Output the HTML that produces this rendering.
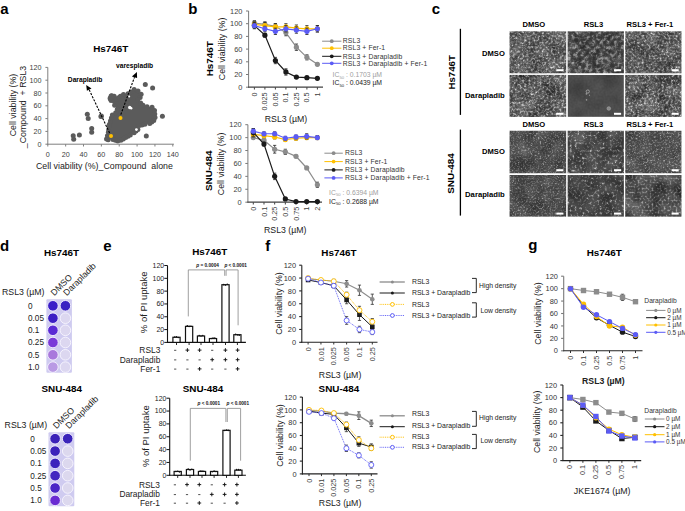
<!DOCTYPE html>
<html><head><meta charset="utf-8"><style>html,body{margin:0;padding:0;background:#fff;width:685px;height:511px;overflow:hidden}svg{display:block}text{font-family:"Liberation Sans", sans-serif}</style></head>
<body><svg width="685" height="511" viewBox="0 0 685 511" font-family='"Liberation Sans", sans-serif'>
<rect width="685" height="511" fill="#fff"/>
<text x="0.30" y="13.70" font-size="15" font-weight="bold" fill="#000">a</text>
<text x="188.30" y="13.70" font-size="15" font-weight="bold" fill="#000">b</text>
<text x="431.80" y="13.80" font-size="15" font-weight="bold" fill="#000">c</text>
<text x="0.10" y="250.80" font-size="15" font-weight="bold" fill="#000">d</text>
<text x="103.30" y="250.90" font-size="15" font-weight="bold" fill="#000">e</text>
<text x="265.30" y="251.00" font-size="15" font-weight="bold" fill="#000">f</text>
<text x="528.30" y="250.30" font-size="15" font-weight="bold" fill="#000">g</text>
<text x="110.70" y="51.50" font-size="9.9" font-weight="bold" text-anchor="middle" fill="#000">Hs746T</text>
<polygon points="106.55,138.94 108.39,132.36 109.48,124.31 111.40,117.96 112.37,114.98 115.70,112.76 117.31,109.21 114.65,105.36 114.43,101.48 111.12,100.48 110.24,98.08 111.77,95.75 114.18,96.34 116.67,99.24 120.41,96.13 123.45,94.55 126.45,96.29 127.96,93.80 130.98,92.07 134.15,89.52 138.03,91.10 141.11,94.21 140.12,97.54 137.65,100.06 140.68,103.07 142.99,105.25 147.08,106.67 152.04,107.32 154.51,110.45 155.03,117.45 153.79,120.61 149.71,123.60 144.85,124.27 139.27,125.51 137.87,129.49 134.09,132.70 130.27,135.11 125.66,137.61 120.87,140.16 117.75,141.01 112.95,139.54 108.16,139.67" fill="#5b5b5b"/>
<circle cx="106.55" cy="138.94" r="2.5" fill="#5b5b5b" stroke="none" stroke-width="1"/>
<circle cx="107.46" cy="135.64" r="2.5" fill="#5b5b5b" stroke="none" stroke-width="1"/>
<circle cx="108.39" cy="132.36" r="2.5" fill="#5b5b5b" stroke="none" stroke-width="1"/>
<circle cx="108.75" cy="129.66" r="2.5" fill="#5b5b5b" stroke="none" stroke-width="1"/>
<circle cx="109.11" cy="126.97" r="2.5" fill="#5b5b5b" stroke="none" stroke-width="1"/>
<circle cx="109.48" cy="124.31" r="2.5" fill="#5b5b5b" stroke="none" stroke-width="1"/>
<circle cx="110.44" cy="121.10" r="2.5" fill="#5b5b5b" stroke="none" stroke-width="1"/>
<circle cx="111.40" cy="117.96" r="2.5" fill="#5b5b5b" stroke="none" stroke-width="1"/>
<circle cx="112.37" cy="114.98" r="2.5" fill="#5b5b5b" stroke="none" stroke-width="1"/>
<circle cx="115.70" cy="112.76" r="2.5" fill="#5b5b5b" stroke="none" stroke-width="1"/>
<circle cx="117.31" cy="109.21" r="2.5" fill="#5b5b5b" stroke="none" stroke-width="1"/>
<circle cx="114.65" cy="105.36" r="2.5" fill="#5b5b5b" stroke="none" stroke-width="1"/>
<circle cx="114.43" cy="101.48" r="2.5" fill="#5b5b5b" stroke="none" stroke-width="1"/>
<circle cx="111.12" cy="100.48" r="2.5" fill="#5b5b5b" stroke="none" stroke-width="1"/>
<circle cx="110.24" cy="98.08" r="2.5" fill="#5b5b5b" stroke="none" stroke-width="1"/>
<circle cx="111.77" cy="95.75" r="2.5" fill="#5b5b5b" stroke="none" stroke-width="1"/>
<circle cx="114.18" cy="96.34" r="2.5" fill="#5b5b5b" stroke="none" stroke-width="1"/>
<circle cx="116.67" cy="99.24" r="2.5" fill="#5b5b5b" stroke="none" stroke-width="1"/>
<circle cx="118.55" cy="97.70" r="2.5" fill="#5b5b5b" stroke="none" stroke-width="1"/>
<circle cx="120.41" cy="96.13" r="2.5" fill="#5b5b5b" stroke="none" stroke-width="1"/>
<circle cx="123.45" cy="94.55" r="2.5" fill="#5b5b5b" stroke="none" stroke-width="1"/>
<circle cx="126.45" cy="96.29" r="2.5" fill="#5b5b5b" stroke="none" stroke-width="1"/>
<circle cx="127.96" cy="93.80" r="2.5" fill="#5b5b5b" stroke="none" stroke-width="1"/>
<circle cx="130.98" cy="92.07" r="2.5" fill="#5b5b5b" stroke="none" stroke-width="1"/>
<circle cx="134.15" cy="89.52" r="2.5" fill="#5b5b5b" stroke="none" stroke-width="1"/>
<circle cx="138.03" cy="91.10" r="2.5" fill="#5b5b5b" stroke="none" stroke-width="1"/>
<circle cx="141.11" cy="94.21" r="2.5" fill="#5b5b5b" stroke="none" stroke-width="1"/>
<circle cx="140.12" cy="97.54" r="2.5" fill="#5b5b5b" stroke="none" stroke-width="1"/>
<circle cx="137.65" cy="100.06" r="2.5" fill="#5b5b5b" stroke="none" stroke-width="1"/>
<circle cx="140.68" cy="103.07" r="2.5" fill="#5b5b5b" stroke="none" stroke-width="1"/>
<circle cx="142.99" cy="105.25" r="2.5" fill="#5b5b5b" stroke="none" stroke-width="1"/>
<circle cx="147.08" cy="106.67" r="2.5" fill="#5b5b5b" stroke="none" stroke-width="1"/>
<circle cx="152.04" cy="107.32" r="2.5" fill="#5b5b5b" stroke="none" stroke-width="1"/>
<circle cx="154.51" cy="110.45" r="2.5" fill="#5b5b5b" stroke="none" stroke-width="1"/>
<circle cx="154.75" cy="113.94" r="2.5" fill="#5b5b5b" stroke="none" stroke-width="1"/>
<circle cx="155.03" cy="117.45" r="2.5" fill="#5b5b5b" stroke="none" stroke-width="1"/>
<circle cx="153.79" cy="120.61" r="2.5" fill="#5b5b5b" stroke="none" stroke-width="1"/>
<circle cx="151.74" cy="122.11" r="2.5" fill="#5b5b5b" stroke="none" stroke-width="1"/>
<circle cx="149.71" cy="123.60" r="2.5" fill="#5b5b5b" stroke="none" stroke-width="1"/>
<circle cx="144.85" cy="124.27" r="2.5" fill="#5b5b5b" stroke="none" stroke-width="1"/>
<circle cx="142.03" cy="124.90" r="2.5" fill="#5b5b5b" stroke="none" stroke-width="1"/>
<circle cx="139.27" cy="125.51" r="2.5" fill="#5b5b5b" stroke="none" stroke-width="1"/>
<circle cx="137.87" cy="129.49" r="2.5" fill="#5b5b5b" stroke="none" stroke-width="1"/>
<circle cx="135.98" cy="131.08" r="2.5" fill="#5b5b5b" stroke="none" stroke-width="1"/>
<circle cx="134.09" cy="132.70" r="2.5" fill="#5b5b5b" stroke="none" stroke-width="1"/>
<circle cx="130.27" cy="135.11" r="2.5" fill="#5b5b5b" stroke="none" stroke-width="1"/>
<circle cx="127.97" cy="136.35" r="2.5" fill="#5b5b5b" stroke="none" stroke-width="1"/>
<circle cx="125.66" cy="137.61" r="2.5" fill="#5b5b5b" stroke="none" stroke-width="1"/>
<circle cx="123.28" cy="138.88" r="2.5" fill="#5b5b5b" stroke="none" stroke-width="1"/>
<circle cx="120.87" cy="140.16" r="2.5" fill="#5b5b5b" stroke="none" stroke-width="1"/>
<circle cx="117.75" cy="141.01" r="2.5" fill="#5b5b5b" stroke="none" stroke-width="1"/>
<circle cx="115.36" cy="140.27" r="2.5" fill="#5b5b5b" stroke="none" stroke-width="1"/>
<circle cx="112.95" cy="139.54" r="2.5" fill="#5b5b5b" stroke="none" stroke-width="1"/>
<circle cx="108.16" cy="139.67" r="2.5" fill="#5b5b5b" stroke="none" stroke-width="1"/>
<circle cx="129.70" cy="107.50" r="1.7" fill="#fff" stroke="none" stroke-width="1"/>
<circle cx="136.40" cy="129.60" r="1.4" fill="#fff" stroke="none" stroke-width="1"/>
<circle cx="131.20" cy="108.30" r="1.2" fill="#fff" stroke="none" stroke-width="1"/>
<circle cx="129.20" cy="96.50" r="1.0" fill="#fff" stroke="none" stroke-width="1"/>
<circle cx="73.20" cy="135.80" r="2.5" fill="#5b5b5b" stroke="none" stroke-width="1"/>
<circle cx="73.70" cy="139.30" r="2.5" fill="#5b5b5b" stroke="none" stroke-width="1"/>
<circle cx="79.40" cy="134.90" r="2.5" fill="#5b5b5b" stroke="none" stroke-width="1"/>
<circle cx="87.30" cy="114.30" r="2.5" fill="#5b5b5b" stroke="none" stroke-width="1"/>
<circle cx="88.20" cy="118.50" r="2.5" fill="#5b5b5b" stroke="none" stroke-width="1"/>
<circle cx="91.70" cy="128.40" r="2.5" fill="#5b5b5b" stroke="none" stroke-width="1"/>
<circle cx="91.70" cy="132.20" r="2.5" fill="#5b5b5b" stroke="none" stroke-width="1"/>
<circle cx="100.90" cy="116.40" r="2.5" fill="#5b5b5b" stroke="none" stroke-width="1"/>
<circle cx="111.10" cy="96.10" r="2.5" fill="#5b5b5b" stroke="none" stroke-width="1"/>
<circle cx="110.20" cy="98.80" r="2.5" fill="#5b5b5b" stroke="none" stroke-width="1"/>
<circle cx="145.30" cy="84.60" r="2.5" fill="#5b5b5b" stroke="none" stroke-width="1"/>
<circle cx="152.60" cy="87.90" r="2.5" fill="#5b5b5b" stroke="none" stroke-width="1"/>
<circle cx="162.40" cy="116.20" r="2.5" fill="#5b5b5b" stroke="none" stroke-width="1"/>
<circle cx="146.30" cy="136.10" r="2.5" fill="#5b5b5b" stroke="none" stroke-width="1"/>
<circle cx="101.40" cy="116.10" r="2.5" fill="#5b5b5b" stroke="none" stroke-width="1"/>
<circle cx="120.50" cy="117.90" r="2.0" fill="#ffc000" stroke="none" stroke-width="1"/>
<circle cx="111.00" cy="136.00" r="2.0" fill="#ffc000" stroke="none" stroke-width="1"/>
<defs><marker id="ah" viewBox="0 0 10 10" refX="9" refY="5" markerWidth="4.2" markerHeight="4.2" orient="auto"><path d="M0,0 L10,5 L0,10 z" fill="#000"/></marker></defs>
<line x1="109.60" y1="133.00" x2="89.10" y2="89.60" stroke="#000" stroke-width="1.1" stroke-dasharray="2.2,1.3"/>
<line x1="120.80" y1="114.60" x2="134.50" y2="77.20" stroke="#000" stroke-width="1.1" stroke-dasharray="2.2,1.3"/>
<polygon points="86.2,85.0 86.9,90.8 91.5,88.6" fill="#000"/>
<polygon points="136.9,71.9 131.9,76.4 137.1,78.0" fill="#000"/>
<text x="67.80" y="82.00" font-size="6.7" font-weight="bold" fill="#000">Darapladib</text>
<text x="116.00" y="68.30" font-size="6.7" font-weight="bold" fill="#000">varespladib</text>
<line x1="47.80" y1="67.40" x2="47.80" y2="144.70" stroke="#7f7f7f" stroke-width="1"/>
<line x1="47.30" y1="144.20" x2="173.90" y2="144.20" stroke="#7f7f7f" stroke-width="1"/>
<line x1="45.40" y1="144.20" x2="47.80" y2="144.20" stroke="#7f7f7f" stroke-width="1"/>
<text x="41.60" y="146.70" font-size="7.2" text-anchor="end" fill="#404040">0</text>
<line x1="45.40" y1="131.40" x2="47.80" y2="131.40" stroke="#7f7f7f" stroke-width="1"/>
<text x="41.60" y="133.90" font-size="7.2" text-anchor="end" fill="#404040">20</text>
<line x1="45.40" y1="118.60" x2="47.80" y2="118.60" stroke="#7f7f7f" stroke-width="1"/>
<text x="41.60" y="121.10" font-size="7.2" text-anchor="end" fill="#404040">40</text>
<line x1="45.40" y1="105.80" x2="47.80" y2="105.80" stroke="#7f7f7f" stroke-width="1"/>
<text x="41.60" y="108.30" font-size="7.2" text-anchor="end" fill="#404040">60</text>
<line x1="45.40" y1="93.00" x2="47.80" y2="93.00" stroke="#7f7f7f" stroke-width="1"/>
<text x="41.60" y="95.50" font-size="7.2" text-anchor="end" fill="#404040">80</text>
<line x1="45.40" y1="80.20" x2="47.80" y2="80.20" stroke="#7f7f7f" stroke-width="1"/>
<text x="41.60" y="82.70" font-size="7.2" text-anchor="end" fill="#404040">100</text>
<line x1="45.40" y1="67.40" x2="47.80" y2="67.40" stroke="#7f7f7f" stroke-width="1"/>
<text x="41.60" y="69.90" font-size="7.2" text-anchor="end" fill="#404040">120</text>
<line x1="47.80" y1="144.20" x2="47.80" y2="146.50" stroke="#7f7f7f" stroke-width="1"/>
<text x="47.80" y="156.50" font-size="7.2" text-anchor="middle" fill="#404040">0</text>
<line x1="65.66" y1="144.20" x2="65.66" y2="146.50" stroke="#7f7f7f" stroke-width="1"/>
<text x="65.66" y="156.50" font-size="7.2" text-anchor="middle" fill="#404040">20</text>
<line x1="83.51" y1="144.20" x2="83.51" y2="146.50" stroke="#7f7f7f" stroke-width="1"/>
<text x="83.51" y="156.50" font-size="7.2" text-anchor="middle" fill="#404040">40</text>
<line x1="101.37" y1="144.20" x2="101.37" y2="146.50" stroke="#7f7f7f" stroke-width="1"/>
<text x="101.37" y="156.50" font-size="7.2" text-anchor="middle" fill="#404040">60</text>
<line x1="119.23" y1="144.20" x2="119.23" y2="146.50" stroke="#7f7f7f" stroke-width="1"/>
<text x="119.23" y="156.50" font-size="7.2" text-anchor="middle" fill="#404040">80</text>
<line x1="137.09" y1="144.20" x2="137.09" y2="146.50" stroke="#7f7f7f" stroke-width="1"/>
<text x="137.09" y="156.50" font-size="7.2" text-anchor="middle" fill="#404040">100</text>
<line x1="154.94" y1="144.20" x2="154.94" y2="146.50" stroke="#7f7f7f" stroke-width="1"/>
<text x="154.94" y="156.50" font-size="7.2" text-anchor="middle" fill="#404040">120</text>
<line x1="172.80" y1="144.20" x2="172.80" y2="146.50" stroke="#7f7f7f" stroke-width="1"/>
<text x="172.80" y="156.50" font-size="7.2" text-anchor="middle" fill="#404040">140</text>
<text x="104.40" y="168.50" font-size="8.8" text-anchor="middle" fill="#222">Cell viability (%)_Compound&#160;&#160;alone</text>
<text x="16.20" y="105.00" font-size="8.8" text-anchor="middle" fill="#222" transform="rotate(-90 16.20 105.00)">Cell viability (%)</text>
<text x="26.00" y="107.00" font-size="8.8" text-anchor="middle" fill="#222" transform="rotate(-90 26.00 107.00)">_Compound&#160;&#160;+ RSL3</text>
<line x1="248.60" y1="11.00" x2="248.60" y2="87.70" stroke="#7a7a7a" stroke-width="1"/>
<line x1="246.00" y1="87.20" x2="248.60" y2="87.20" stroke="#7a7a7a" stroke-width="1"/>
<text x="242.40" y="89.86" font-size="7.4" text-anchor="end" fill="#404040">0</text>
<line x1="246.00" y1="74.50" x2="248.60" y2="74.50" stroke="#7a7a7a" stroke-width="1"/>
<text x="242.40" y="77.16" font-size="7.4" text-anchor="end" fill="#404040">20</text>
<line x1="246.00" y1="61.80" x2="248.60" y2="61.80" stroke="#7a7a7a" stroke-width="1"/>
<text x="242.40" y="64.46" font-size="7.4" text-anchor="end" fill="#404040">40</text>
<line x1="246.00" y1="49.10" x2="248.60" y2="49.10" stroke="#7a7a7a" stroke-width="1"/>
<text x="242.40" y="51.76" font-size="7.4" text-anchor="end" fill="#404040">60</text>
<line x1="246.00" y1="36.40" x2="248.60" y2="36.40" stroke="#7a7a7a" stroke-width="1"/>
<text x="242.40" y="39.06" font-size="7.4" text-anchor="end" fill="#404040">80</text>
<line x1="246.00" y1="23.70" x2="248.60" y2="23.70" stroke="#7a7a7a" stroke-width="1"/>
<text x="242.40" y="26.36" font-size="7.4" text-anchor="end" fill="#404040">100</text>
<line x1="246.00" y1="11.00" x2="248.60" y2="11.00" stroke="#7a7a7a" stroke-width="1"/>
<text x="242.40" y="13.66" font-size="7.4" text-anchor="end" fill="#404040">120</text>
<line x1="248.10" y1="87.20" x2="323.00" y2="87.20" stroke="#404040" stroke-width="1.2"/>
<line x1="254.40" y1="87.20" x2="254.40" y2="89.40" stroke="#404040" stroke-width="1.02"/>
<line x1="264.90" y1="87.20" x2="264.90" y2="89.40" stroke="#404040" stroke-width="1.02"/>
<line x1="275.40" y1="87.20" x2="275.40" y2="89.40" stroke="#404040" stroke-width="1.02"/>
<line x1="285.90" y1="87.20" x2="285.90" y2="89.40" stroke="#404040" stroke-width="1.02"/>
<line x1="296.40" y1="87.20" x2="296.40" y2="89.40" stroke="#404040" stroke-width="1.02"/>
<line x1="306.90" y1="87.20" x2="306.90" y2="89.40" stroke="#404040" stroke-width="1.02"/>
<line x1="317.40" y1="87.20" x2="317.40" y2="89.40" stroke="#404040" stroke-width="1.02"/>
<text x="256.99" y="92.60" font-size="7.2" text-anchor="end" fill="#404040" transform="rotate(-90 256.99 92.60)">0</text>
<text x="267.49" y="92.60" font-size="7.2" text-anchor="end" fill="#404040" transform="rotate(-90 267.49 92.60)">0.025</text>
<text x="277.99" y="92.60" font-size="7.2" text-anchor="end" fill="#404040" transform="rotate(-90 277.99 92.60)">0.05</text>
<text x="288.49" y="92.60" font-size="7.2" text-anchor="end" fill="#404040" transform="rotate(-90 288.49 92.60)">0.1</text>
<text x="298.99" y="92.60" font-size="7.2" text-anchor="end" fill="#404040" transform="rotate(-90 298.99 92.60)">0.25</text>
<text x="309.49" y="92.60" font-size="7.2" text-anchor="end" fill="#404040" transform="rotate(-90 309.49 92.60)">0.5</text>
<text x="319.99" y="92.60" font-size="7.2" text-anchor="end" fill="#404040" transform="rotate(-90 319.99 92.60)">1</text>
<polyline points="254.40,23.06 264.90,24.34 275.40,26.24 285.90,32.59 296.40,47.20 306.90,57.36 317.40,64.34" fill="none" stroke="#8c8c8c" stroke-width="1.2"/>
<line x1="254.40" y1="20.52" x2="254.40" y2="25.60" stroke="#222" stroke-width="0.8"/>
<line x1="252.80" y1="20.52" x2="256.00" y2="20.52" stroke="#222" stroke-width="0.8"/>
<line x1="252.80" y1="25.60" x2="256.00" y2="25.60" stroke="#222" stroke-width="0.8"/>
<line x1="264.90" y1="21.80" x2="264.90" y2="26.88" stroke="#222" stroke-width="0.8"/>
<line x1="263.30" y1="21.80" x2="266.50" y2="21.80" stroke="#222" stroke-width="0.8"/>
<line x1="263.30" y1="26.88" x2="266.50" y2="26.88" stroke="#222" stroke-width="0.8"/>
<line x1="275.40" y1="23.70" x2="275.40" y2="28.78" stroke="#222" stroke-width="0.8"/>
<line x1="273.80" y1="23.70" x2="277.00" y2="23.70" stroke="#222" stroke-width="0.8"/>
<line x1="273.80" y1="28.78" x2="277.00" y2="28.78" stroke="#222" stroke-width="0.8"/>
<line x1="285.90" y1="29.42" x2="285.90" y2="35.77" stroke="#222" stroke-width="0.8"/>
<line x1="284.30" y1="29.42" x2="287.50" y2="29.42" stroke="#222" stroke-width="0.8"/>
<line x1="284.30" y1="35.77" x2="287.50" y2="35.77" stroke="#222" stroke-width="0.8"/>
<line x1="296.40" y1="44.02" x2="296.40" y2="50.37" stroke="#222" stroke-width="0.8"/>
<line x1="294.80" y1="44.02" x2="298.00" y2="44.02" stroke="#222" stroke-width="0.8"/>
<line x1="294.80" y1="50.37" x2="298.00" y2="50.37" stroke="#222" stroke-width="0.8"/>
<line x1="306.90" y1="54.82" x2="306.90" y2="59.90" stroke="#222" stroke-width="0.8"/>
<line x1="305.30" y1="54.82" x2="308.50" y2="54.82" stroke="#222" stroke-width="0.8"/>
<line x1="305.30" y1="59.90" x2="308.50" y2="59.90" stroke="#222" stroke-width="0.8"/>
<line x1="317.40" y1="63.07" x2="317.40" y2="65.61" stroke="#222" stroke-width="0.8"/>
<line x1="315.80" y1="63.07" x2="319.00" y2="63.07" stroke="#222" stroke-width="0.8"/>
<line x1="315.80" y1="65.61" x2="319.00" y2="65.61" stroke="#222" stroke-width="0.8"/>
<circle cx="254.40" cy="23.06" r="2.6" fill="#8c8c8c" stroke="none" stroke-width="1"/>
<circle cx="264.90" cy="24.34" r="2.6" fill="#8c8c8c" stroke="none" stroke-width="1"/>
<circle cx="275.40" cy="26.24" r="2.6" fill="#8c8c8c" stroke="none" stroke-width="1"/>
<circle cx="285.90" cy="32.59" r="2.6" fill="#8c8c8c" stroke="none" stroke-width="1"/>
<circle cx="296.40" cy="47.20" r="2.6" fill="#8c8c8c" stroke="none" stroke-width="1"/>
<circle cx="306.90" cy="57.36" r="2.6" fill="#8c8c8c" stroke="none" stroke-width="1"/>
<circle cx="317.40" cy="64.34" r="2.6" fill="#8c8c8c" stroke="none" stroke-width="1"/>
<polyline points="254.40,24.34 264.90,25.61 275.40,26.88 285.90,26.88 296.40,28.15 306.90,28.78 317.40,28.78" fill="none" stroke="#ffc000" stroke-width="1.2"/>
<line x1="254.40" y1="21.80" x2="254.40" y2="26.88" stroke="#222" stroke-width="0.8"/>
<line x1="252.80" y1="21.80" x2="256.00" y2="21.80" stroke="#222" stroke-width="0.8"/>
<line x1="252.80" y1="26.88" x2="256.00" y2="26.88" stroke="#222" stroke-width="0.8"/>
<line x1="264.90" y1="22.43" x2="264.90" y2="28.78" stroke="#222" stroke-width="0.8"/>
<line x1="263.30" y1="22.43" x2="266.50" y2="22.43" stroke="#222" stroke-width="0.8"/>
<line x1="263.30" y1="28.78" x2="266.50" y2="28.78" stroke="#222" stroke-width="0.8"/>
<line x1="275.40" y1="23.70" x2="275.40" y2="30.05" stroke="#222" stroke-width="0.8"/>
<line x1="273.80" y1="23.70" x2="277.00" y2="23.70" stroke="#222" stroke-width="0.8"/>
<line x1="273.80" y1="30.05" x2="277.00" y2="30.05" stroke="#222" stroke-width="0.8"/>
<line x1="285.90" y1="23.70" x2="285.90" y2="30.05" stroke="#222" stroke-width="0.8"/>
<line x1="284.30" y1="23.70" x2="287.50" y2="23.70" stroke="#222" stroke-width="0.8"/>
<line x1="284.30" y1="30.05" x2="287.50" y2="30.05" stroke="#222" stroke-width="0.8"/>
<line x1="296.40" y1="24.97" x2="296.40" y2="31.32" stroke="#222" stroke-width="0.8"/>
<line x1="294.80" y1="24.97" x2="298.00" y2="24.97" stroke="#222" stroke-width="0.8"/>
<line x1="294.80" y1="31.32" x2="298.00" y2="31.32" stroke="#222" stroke-width="0.8"/>
<line x1="306.90" y1="25.61" x2="306.90" y2="31.96" stroke="#222" stroke-width="0.8"/>
<line x1="305.30" y1="25.61" x2="308.50" y2="25.61" stroke="#222" stroke-width="0.8"/>
<line x1="305.30" y1="31.96" x2="308.50" y2="31.96" stroke="#222" stroke-width="0.8"/>
<line x1="317.40" y1="25.61" x2="317.40" y2="31.96" stroke="#222" stroke-width="0.8"/>
<line x1="315.80" y1="25.61" x2="319.00" y2="25.61" stroke="#222" stroke-width="0.8"/>
<line x1="315.80" y1="31.96" x2="319.00" y2="31.96" stroke="#222" stroke-width="0.8"/>
<circle cx="254.40" cy="24.34" r="2.6" fill="#ffc000" stroke="none" stroke-width="1"/>
<circle cx="264.90" cy="25.61" r="2.6" fill="#ffc000" stroke="none" stroke-width="1"/>
<circle cx="275.40" cy="26.88" r="2.6" fill="#ffc000" stroke="none" stroke-width="1"/>
<circle cx="285.90" cy="26.88" r="2.6" fill="#ffc000" stroke="none" stroke-width="1"/>
<circle cx="296.40" cy="28.15" r="2.6" fill="#ffc000" stroke="none" stroke-width="1"/>
<circle cx="306.90" cy="28.78" r="2.6" fill="#ffc000" stroke="none" stroke-width="1"/>
<circle cx="317.40" cy="28.78" r="2.6" fill="#ffc000" stroke="none" stroke-width="1"/>
<polyline points="254.40,25.61 264.90,35.13 275.40,60.53 285.90,71.96 296.40,77.04 306.90,77.67 317.40,78.31" fill="none" stroke="#1a1a1a" stroke-width="1.2"/>
<line x1="254.40" y1="22.43" x2="254.40" y2="28.78" stroke="#222" stroke-width="0.8"/>
<line x1="252.80" y1="22.43" x2="256.00" y2="22.43" stroke="#222" stroke-width="0.8"/>
<line x1="252.80" y1="28.78" x2="256.00" y2="28.78" stroke="#222" stroke-width="0.8"/>
<line x1="264.90" y1="33.23" x2="264.90" y2="37.04" stroke="#222" stroke-width="0.8"/>
<line x1="263.30" y1="33.23" x2="266.50" y2="33.23" stroke="#222" stroke-width="0.8"/>
<line x1="263.30" y1="37.04" x2="266.50" y2="37.04" stroke="#222" stroke-width="0.8"/>
<line x1="275.40" y1="57.36" x2="275.40" y2="63.70" stroke="#222" stroke-width="0.8"/>
<line x1="273.80" y1="57.36" x2="277.00" y2="57.36" stroke="#222" stroke-width="0.8"/>
<line x1="273.80" y1="63.70" x2="277.00" y2="63.70" stroke="#222" stroke-width="0.8"/>
<line x1="285.90" y1="68.79" x2="285.90" y2="75.14" stroke="#222" stroke-width="0.8"/>
<line x1="284.30" y1="68.79" x2="287.50" y2="68.79" stroke="#222" stroke-width="0.8"/>
<line x1="284.30" y1="75.14" x2="287.50" y2="75.14" stroke="#222" stroke-width="0.8"/>
<line x1="296.40" y1="75.77" x2="296.40" y2="78.31" stroke="#222" stroke-width="0.8"/>
<line x1="294.80" y1="75.77" x2="298.00" y2="75.77" stroke="#222" stroke-width="0.8"/>
<line x1="294.80" y1="78.31" x2="298.00" y2="78.31" stroke="#222" stroke-width="0.8"/>
<line x1="306.90" y1="76.41" x2="306.90" y2="78.94" stroke="#222" stroke-width="0.8"/>
<line x1="305.30" y1="76.41" x2="308.50" y2="76.41" stroke="#222" stroke-width="0.8"/>
<line x1="305.30" y1="78.94" x2="308.50" y2="78.94" stroke="#222" stroke-width="0.8"/>
<line x1="317.40" y1="77.04" x2="317.40" y2="79.58" stroke="#222" stroke-width="0.8"/>
<line x1="315.80" y1="77.04" x2="319.00" y2="77.04" stroke="#222" stroke-width="0.8"/>
<line x1="315.80" y1="79.58" x2="319.00" y2="79.58" stroke="#222" stroke-width="0.8"/>
<circle cx="254.40" cy="25.61" r="2.6" fill="#1a1a1a" stroke="none" stroke-width="1"/>
<circle cx="264.90" cy="35.13" r="2.6" fill="#1a1a1a" stroke="none" stroke-width="1"/>
<circle cx="275.40" cy="60.53" r="2.6" fill="#1a1a1a" stroke="none" stroke-width="1"/>
<circle cx="285.90" cy="71.96" r="2.6" fill="#1a1a1a" stroke="none" stroke-width="1"/>
<circle cx="296.40" cy="77.04" r="2.6" fill="#1a1a1a" stroke="none" stroke-width="1"/>
<circle cx="306.90" cy="77.67" r="2.6" fill="#1a1a1a" stroke="none" stroke-width="1"/>
<circle cx="317.40" cy="78.31" r="2.6" fill="#1a1a1a" stroke="none" stroke-width="1"/>
<polyline points="254.40,25.61 264.90,28.78 275.40,31.32 285.90,28.78 296.40,30.05 306.90,31.32 317.40,28.78" fill="none" stroke="#5b5bf5" stroke-width="1.2"/>
<line x1="254.40" y1="23.07" x2="254.40" y2="28.15" stroke="#222" stroke-width="0.8"/>
<line x1="252.80" y1="23.07" x2="256.00" y2="23.07" stroke="#222" stroke-width="0.8"/>
<line x1="252.80" y1="28.15" x2="256.00" y2="28.15" stroke="#222" stroke-width="0.8"/>
<line x1="264.90" y1="26.24" x2="264.90" y2="31.32" stroke="#222" stroke-width="0.8"/>
<line x1="263.30" y1="26.24" x2="266.50" y2="26.24" stroke="#222" stroke-width="0.8"/>
<line x1="263.30" y1="31.32" x2="266.50" y2="31.32" stroke="#222" stroke-width="0.8"/>
<line x1="275.40" y1="28.14" x2="275.40" y2="34.49" stroke="#222" stroke-width="0.8"/>
<line x1="273.80" y1="28.14" x2="277.00" y2="28.14" stroke="#222" stroke-width="0.8"/>
<line x1="273.80" y1="34.49" x2="277.00" y2="34.49" stroke="#222" stroke-width="0.8"/>
<line x1="285.90" y1="25.61" x2="285.90" y2="31.96" stroke="#222" stroke-width="0.8"/>
<line x1="284.30" y1="25.61" x2="287.50" y2="25.61" stroke="#222" stroke-width="0.8"/>
<line x1="284.30" y1="31.96" x2="287.50" y2="31.96" stroke="#222" stroke-width="0.8"/>
<line x1="296.40" y1="26.88" x2="296.40" y2="33.23" stroke="#222" stroke-width="0.8"/>
<line x1="294.80" y1="26.88" x2="298.00" y2="26.88" stroke="#222" stroke-width="0.8"/>
<line x1="294.80" y1="33.23" x2="298.00" y2="33.23" stroke="#222" stroke-width="0.8"/>
<line x1="306.90" y1="28.14" x2="306.90" y2="34.49" stroke="#222" stroke-width="0.8"/>
<line x1="305.30" y1="28.14" x2="308.50" y2="28.14" stroke="#222" stroke-width="0.8"/>
<line x1="305.30" y1="34.49" x2="308.50" y2="34.49" stroke="#222" stroke-width="0.8"/>
<line x1="317.40" y1="25.61" x2="317.40" y2="31.96" stroke="#222" stroke-width="0.8"/>
<line x1="315.80" y1="25.61" x2="319.00" y2="25.61" stroke="#222" stroke-width="0.8"/>
<line x1="315.80" y1="31.96" x2="319.00" y2="31.96" stroke="#222" stroke-width="0.8"/>
<circle cx="254.40" cy="25.61" r="2.6" fill="#5b5bf5" stroke="none" stroke-width="1"/>
<circle cx="264.90" cy="28.78" r="2.6" fill="#5b5bf5" stroke="none" stroke-width="1"/>
<circle cx="275.40" cy="31.32" r="2.6" fill="#5b5bf5" stroke="none" stroke-width="1"/>
<circle cx="285.90" cy="28.78" r="2.6" fill="#5b5bf5" stroke="none" stroke-width="1"/>
<circle cx="296.40" cy="30.05" r="2.6" fill="#5b5bf5" stroke="none" stroke-width="1"/>
<circle cx="306.90" cy="31.32" r="2.6" fill="#5b5bf5" stroke="none" stroke-width="1"/>
<circle cx="317.40" cy="28.78" r="2.6" fill="#5b5bf5" stroke="none" stroke-width="1"/>
<text x="286.00" y="122.00" font-size="8.75" text-anchor="middle" fill="#222">RSL3 (µM)</text>
<text x="213.00" y="58.70" font-size="9.9" font-weight="bold" text-anchor="middle" fill="#000" transform="rotate(-90 213.00 58.70)">Hs746T</text>
<text x="225.30" y="48.90" font-size="8.8" text-anchor="middle" fill="#222" transform="rotate(-90 225.30 48.90)">Cell viability (%)</text>
<line x1="322.10" y1="41.20" x2="341.40" y2="41.20" stroke="#8c8c8c" stroke-width="1.0"/>
<circle cx="331.75" cy="41.20" r="1.9" fill="#8c8c8c" stroke="none" stroke-width="1"/>
<text x="342.80" y="43.40" font-size="6.8" fill="#333" letter-spacing="0.12">RSL3</text>
<line x1="322.10" y1="48.20" x2="341.40" y2="48.20" stroke="#ffc000" stroke-width="1.0"/>
<circle cx="331.75" cy="48.20" r="1.9" fill="#ffc000" stroke="none" stroke-width="1"/>
<text x="342.80" y="50.40" font-size="6.8" fill="#333" letter-spacing="0.12">RSL3&#160;+&#160;Fer-1</text>
<line x1="322.10" y1="56.30" x2="341.40" y2="56.30" stroke="#1a1a1a" stroke-width="1.0"/>
<circle cx="331.75" cy="56.30" r="1.9" fill="#1a1a1a" stroke="none" stroke-width="1"/>
<text x="342.80" y="58.50" font-size="6.8" fill="#333" letter-spacing="0.12">RSL3&#160;+&#160;Darapladib</text>
<line x1="322.10" y1="63.30" x2="341.40" y2="63.30" stroke="#5b5bf5" stroke-width="1.0"/>
<circle cx="331.75" cy="63.30" r="1.9" fill="#5b5bf5" stroke="none" stroke-width="1"/>
<text x="342.80" y="65.50" font-size="6.8" fill="#333" letter-spacing="0.12">RSL3&#160;+&#160;Darapladib&#160;+&#160;Fer-1</text>
<text x="332.6" y="77.0" font-size="6.8" fill="#a0a0a0">IC<tspan font-size="4.2" dy="1.5">50</tspan><tspan dy="-1.5"> : 0.1703 µM</tspan></text>
<text x="332.6" y="85.2" font-size="6.8" fill="#222">IC<tspan font-size="4.2" dy="1.5">50</tspan><tspan dy="-1.5"> : 0.0439 µM</tspan></text>
<line x1="247.90" y1="124.70" x2="247.90" y2="202.70" stroke="#7a7a7a" stroke-width="1"/>
<line x1="245.30" y1="202.20" x2="247.90" y2="202.20" stroke="#7a7a7a" stroke-width="1"/>
<text x="241.70" y="204.86" font-size="7.4" text-anchor="end" fill="#404040">0</text>
<line x1="245.30" y1="189.28" x2="247.90" y2="189.28" stroke="#7a7a7a" stroke-width="1"/>
<text x="241.70" y="191.95" font-size="7.4" text-anchor="end" fill="#404040">20</text>
<line x1="245.30" y1="176.37" x2="247.90" y2="176.37" stroke="#7a7a7a" stroke-width="1"/>
<text x="241.70" y="179.03" font-size="7.4" text-anchor="end" fill="#404040">40</text>
<line x1="245.30" y1="163.45" x2="247.90" y2="163.45" stroke="#7a7a7a" stroke-width="1"/>
<text x="241.70" y="166.11" font-size="7.4" text-anchor="end" fill="#404040">60</text>
<line x1="245.30" y1="150.53" x2="247.90" y2="150.53" stroke="#7a7a7a" stroke-width="1"/>
<text x="241.70" y="153.20" font-size="7.4" text-anchor="end" fill="#404040">80</text>
<line x1="245.30" y1="137.62" x2="247.90" y2="137.62" stroke="#7a7a7a" stroke-width="1"/>
<text x="241.70" y="140.28" font-size="7.4" text-anchor="end" fill="#404040">100</text>
<line x1="245.30" y1="124.70" x2="247.90" y2="124.70" stroke="#7a7a7a" stroke-width="1"/>
<text x="241.70" y="127.36" font-size="7.4" text-anchor="end" fill="#404040">120</text>
<line x1="247.40" y1="202.20" x2="322.00" y2="202.20" stroke="#404040" stroke-width="1.2"/>
<line x1="253.30" y1="202.20" x2="253.30" y2="204.40" stroke="#404040" stroke-width="1.02"/>
<line x1="263.98" y1="202.20" x2="263.98" y2="204.40" stroke="#404040" stroke-width="1.02"/>
<line x1="274.66" y1="202.20" x2="274.66" y2="204.40" stroke="#404040" stroke-width="1.02"/>
<line x1="285.34" y1="202.20" x2="285.34" y2="204.40" stroke="#404040" stroke-width="1.02"/>
<line x1="296.02" y1="202.20" x2="296.02" y2="204.40" stroke="#404040" stroke-width="1.02"/>
<line x1="306.70" y1="202.20" x2="306.70" y2="204.40" stroke="#404040" stroke-width="1.02"/>
<line x1="317.38" y1="202.20" x2="317.38" y2="204.40" stroke="#404040" stroke-width="1.02"/>
<text x="255.89" y="206.70" font-size="7.2" text-anchor="end" fill="#404040" transform="rotate(-90 255.89 206.70)">0</text>
<text x="266.57" y="206.70" font-size="7.2" text-anchor="end" fill="#404040" transform="rotate(-90 266.57 206.70)">0.1</text>
<text x="277.25" y="206.70" font-size="7.2" text-anchor="end" fill="#404040" transform="rotate(-90 277.25 206.70)">0.25</text>
<text x="287.93" y="206.70" font-size="7.2" text-anchor="end" fill="#404040" transform="rotate(-90 287.93 206.70)">0.5</text>
<text x="298.61" y="206.70" font-size="7.2" text-anchor="end" fill="#404040" transform="rotate(-90 298.61 206.70)">0.75</text>
<text x="309.29" y="206.70" font-size="7.2" text-anchor="end" fill="#404040" transform="rotate(-90 309.29 206.70)">1</text>
<text x="319.97" y="206.70" font-size="7.2" text-anchor="end" fill="#404040" transform="rotate(-90 319.97 206.70)">2</text>
<polyline points="253.30,137.62 263.98,140.20 274.66,149.24 285.34,151.82 296.02,156.35 306.70,167.97 317.38,184.76" fill="none" stroke="#8c8c8c" stroke-width="1.2"/>
<line x1="253.30" y1="136.32" x2="253.30" y2="138.91" stroke="#222" stroke-width="0.8"/>
<line x1="251.70" y1="136.32" x2="254.90" y2="136.32" stroke="#222" stroke-width="0.8"/>
<line x1="251.70" y1="138.91" x2="254.90" y2="138.91" stroke="#222" stroke-width="0.8"/>
<line x1="263.98" y1="137.62" x2="263.98" y2="142.78" stroke="#222" stroke-width="0.8"/>
<line x1="262.38" y1="137.62" x2="265.58" y2="137.62" stroke="#222" stroke-width="0.8"/>
<line x1="262.38" y1="142.78" x2="265.58" y2="142.78" stroke="#222" stroke-width="0.8"/>
<line x1="274.66" y1="145.37" x2="274.66" y2="153.12" stroke="#222" stroke-width="0.8"/>
<line x1="273.06" y1="145.37" x2="276.26" y2="145.37" stroke="#222" stroke-width="0.8"/>
<line x1="273.06" y1="153.12" x2="276.26" y2="153.12" stroke="#222" stroke-width="0.8"/>
<line x1="285.34" y1="149.24" x2="285.34" y2="154.41" stroke="#222" stroke-width="0.8"/>
<line x1="283.74" y1="149.24" x2="286.94" y2="149.24" stroke="#222" stroke-width="0.8"/>
<line x1="283.74" y1="154.41" x2="286.94" y2="154.41" stroke="#222" stroke-width="0.8"/>
<line x1="296.02" y1="155.05" x2="296.02" y2="157.64" stroke="#222" stroke-width="0.8"/>
<line x1="294.42" y1="155.05" x2="297.62" y2="155.05" stroke="#222" stroke-width="0.8"/>
<line x1="294.42" y1="157.64" x2="297.62" y2="157.64" stroke="#222" stroke-width="0.8"/>
<line x1="306.70" y1="166.68" x2="306.70" y2="169.26" stroke="#222" stroke-width="0.8"/>
<line x1="305.10" y1="166.68" x2="308.30" y2="166.68" stroke="#222" stroke-width="0.8"/>
<line x1="305.10" y1="169.26" x2="308.30" y2="169.26" stroke="#222" stroke-width="0.8"/>
<line x1="317.38" y1="182.18" x2="317.38" y2="187.35" stroke="#222" stroke-width="0.8"/>
<line x1="315.78" y1="182.18" x2="318.98" y2="182.18" stroke="#222" stroke-width="0.8"/>
<line x1="315.78" y1="187.35" x2="318.98" y2="187.35" stroke="#222" stroke-width="0.8"/>
<circle cx="253.30" cy="137.62" r="2.6" fill="#8c8c8c" stroke="none" stroke-width="1"/>
<circle cx="263.98" cy="140.20" r="2.6" fill="#8c8c8c" stroke="none" stroke-width="1"/>
<circle cx="274.66" cy="149.24" r="2.6" fill="#8c8c8c" stroke="none" stroke-width="1"/>
<circle cx="285.34" cy="151.82" r="2.6" fill="#8c8c8c" stroke="none" stroke-width="1"/>
<circle cx="296.02" cy="156.35" r="2.6" fill="#8c8c8c" stroke="none" stroke-width="1"/>
<circle cx="306.70" cy="167.97" r="2.6" fill="#8c8c8c" stroke="none" stroke-width="1"/>
<circle cx="317.38" cy="184.76" r="2.6" fill="#8c8c8c" stroke="none" stroke-width="1"/>
<polyline points="253.30,134.39 263.98,135.68 274.66,136.97 285.34,139.55 296.02,138.26 306.70,137.62 317.38,137.62" fill="none" stroke="#ffc000" stroke-width="1.2"/>
<line x1="253.30" y1="131.80" x2="253.30" y2="136.97" stroke="#222" stroke-width="0.8"/>
<line x1="251.70" y1="131.80" x2="254.90" y2="131.80" stroke="#222" stroke-width="0.8"/>
<line x1="251.70" y1="136.97" x2="254.90" y2="136.97" stroke="#222" stroke-width="0.8"/>
<line x1="263.98" y1="133.74" x2="263.98" y2="137.62" stroke="#222" stroke-width="0.8"/>
<line x1="262.38" y1="133.74" x2="265.58" y2="133.74" stroke="#222" stroke-width="0.8"/>
<line x1="262.38" y1="137.62" x2="265.58" y2="137.62" stroke="#222" stroke-width="0.8"/>
<line x1="274.66" y1="135.03" x2="274.66" y2="138.91" stroke="#222" stroke-width="0.8"/>
<line x1="273.06" y1="135.03" x2="276.26" y2="135.03" stroke="#222" stroke-width="0.8"/>
<line x1="273.06" y1="138.91" x2="276.26" y2="138.91" stroke="#222" stroke-width="0.8"/>
<line x1="285.34" y1="137.62" x2="285.34" y2="141.49" stroke="#222" stroke-width="0.8"/>
<line x1="283.74" y1="137.62" x2="286.94" y2="137.62" stroke="#222" stroke-width="0.8"/>
<line x1="283.74" y1="141.49" x2="286.94" y2="141.49" stroke="#222" stroke-width="0.8"/>
<line x1="296.02" y1="136.32" x2="296.02" y2="140.20" stroke="#222" stroke-width="0.8"/>
<line x1="294.42" y1="136.32" x2="297.62" y2="136.32" stroke="#222" stroke-width="0.8"/>
<line x1="294.42" y1="140.20" x2="297.62" y2="140.20" stroke="#222" stroke-width="0.8"/>
<line x1="306.70" y1="135.68" x2="306.70" y2="139.55" stroke="#222" stroke-width="0.8"/>
<line x1="305.10" y1="135.68" x2="308.30" y2="135.68" stroke="#222" stroke-width="0.8"/>
<line x1="305.10" y1="139.55" x2="308.30" y2="139.55" stroke="#222" stroke-width="0.8"/>
<line x1="317.38" y1="135.68" x2="317.38" y2="139.55" stroke="#222" stroke-width="0.8"/>
<line x1="315.78" y1="135.68" x2="318.98" y2="135.68" stroke="#222" stroke-width="0.8"/>
<line x1="315.78" y1="139.55" x2="318.98" y2="139.55" stroke="#222" stroke-width="0.8"/>
<circle cx="253.30" cy="134.39" r="2.6" fill="#ffc000" stroke="none" stroke-width="1"/>
<circle cx="263.98" cy="135.68" r="2.6" fill="#ffc000" stroke="none" stroke-width="1"/>
<circle cx="274.66" cy="136.97" r="2.6" fill="#ffc000" stroke="none" stroke-width="1"/>
<circle cx="285.34" cy="139.55" r="2.6" fill="#ffc000" stroke="none" stroke-width="1"/>
<circle cx="296.02" cy="138.26" r="2.6" fill="#ffc000" stroke="none" stroke-width="1"/>
<circle cx="306.70" cy="137.62" r="2.6" fill="#ffc000" stroke="none" stroke-width="1"/>
<circle cx="317.38" cy="137.62" r="2.6" fill="#ffc000" stroke="none" stroke-width="1"/>
<polyline points="253.30,132.45 263.98,144.07 274.66,176.37 285.34,198.97 296.02,201.55 306.70,201.55 317.38,201.55" fill="none" stroke="#1a1a1a" stroke-width="1.2"/>
<line x1="253.30" y1="128.57" x2="253.30" y2="136.32" stroke="#222" stroke-width="0.8"/>
<line x1="251.70" y1="128.57" x2="254.90" y2="128.57" stroke="#222" stroke-width="0.8"/>
<line x1="251.70" y1="136.32" x2="254.90" y2="136.32" stroke="#222" stroke-width="0.8"/>
<line x1="263.98" y1="142.14" x2="263.98" y2="146.01" stroke="#222" stroke-width="0.8"/>
<line x1="262.38" y1="142.14" x2="265.58" y2="142.14" stroke="#222" stroke-width="0.8"/>
<line x1="262.38" y1="146.01" x2="265.58" y2="146.01" stroke="#222" stroke-width="0.8"/>
<line x1="274.66" y1="173.14" x2="274.66" y2="179.60" stroke="#222" stroke-width="0.8"/>
<line x1="273.06" y1="173.14" x2="276.26" y2="173.14" stroke="#222" stroke-width="0.8"/>
<line x1="273.06" y1="179.60" x2="276.26" y2="179.60" stroke="#222" stroke-width="0.8"/>
<line x1="285.34" y1="197.68" x2="285.34" y2="200.26" stroke="#222" stroke-width="0.8"/>
<line x1="283.74" y1="197.68" x2="286.94" y2="197.68" stroke="#222" stroke-width="0.8"/>
<line x1="283.74" y1="200.26" x2="286.94" y2="200.26" stroke="#222" stroke-width="0.8"/>
<line x1="296.02" y1="200.91" x2="296.02" y2="202.20" stroke="#222" stroke-width="0.8"/>
<line x1="294.42" y1="200.91" x2="297.62" y2="200.91" stroke="#222" stroke-width="0.8"/>
<line x1="294.42" y1="202.20" x2="297.62" y2="202.20" stroke="#222" stroke-width="0.8"/>
<line x1="306.70" y1="200.91" x2="306.70" y2="202.20" stroke="#222" stroke-width="0.8"/>
<line x1="305.10" y1="200.91" x2="308.30" y2="200.91" stroke="#222" stroke-width="0.8"/>
<line x1="305.10" y1="202.20" x2="308.30" y2="202.20" stroke="#222" stroke-width="0.8"/>
<line x1="317.38" y1="200.91" x2="317.38" y2="202.20" stroke="#222" stroke-width="0.8"/>
<line x1="315.78" y1="200.91" x2="318.98" y2="200.91" stroke="#222" stroke-width="0.8"/>
<line x1="315.78" y1="202.20" x2="318.98" y2="202.20" stroke="#222" stroke-width="0.8"/>
<circle cx="253.30" cy="132.45" r="2.6" fill="#1a1a1a" stroke="none" stroke-width="1"/>
<circle cx="263.98" cy="144.07" r="2.6" fill="#1a1a1a" stroke="none" stroke-width="1"/>
<circle cx="274.66" cy="176.37" r="2.6" fill="#1a1a1a" stroke="none" stroke-width="1"/>
<circle cx="285.34" cy="198.97" r="2.6" fill="#1a1a1a" stroke="none" stroke-width="1"/>
<circle cx="296.02" cy="201.55" r="2.6" fill="#1a1a1a" stroke="none" stroke-width="1"/>
<circle cx="306.70" cy="201.55" r="2.6" fill="#1a1a1a" stroke="none" stroke-width="1"/>
<circle cx="317.38" cy="201.55" r="2.6" fill="#1a1a1a" stroke="none" stroke-width="1"/>
<polyline points="253.30,131.16 263.98,133.74 274.66,133.74 285.34,138.26 296.02,136.97 306.70,136.32 317.38,137.62" fill="none" stroke="#5b5bf5" stroke-width="1.2"/>
<line x1="253.30" y1="128.57" x2="253.30" y2="133.74" stroke="#222" stroke-width="0.8"/>
<line x1="251.70" y1="128.57" x2="254.90" y2="128.57" stroke="#222" stroke-width="0.8"/>
<line x1="251.70" y1="133.74" x2="254.90" y2="133.74" stroke="#222" stroke-width="0.8"/>
<line x1="263.98" y1="131.80" x2="263.98" y2="135.68" stroke="#222" stroke-width="0.8"/>
<line x1="262.38" y1="131.80" x2="265.58" y2="131.80" stroke="#222" stroke-width="0.8"/>
<line x1="262.38" y1="135.68" x2="265.58" y2="135.68" stroke="#222" stroke-width="0.8"/>
<line x1="274.66" y1="131.80" x2="274.66" y2="135.68" stroke="#222" stroke-width="0.8"/>
<line x1="273.06" y1="131.80" x2="276.26" y2="131.80" stroke="#222" stroke-width="0.8"/>
<line x1="273.06" y1="135.68" x2="276.26" y2="135.68" stroke="#222" stroke-width="0.8"/>
<line x1="285.34" y1="136.32" x2="285.34" y2="140.20" stroke="#222" stroke-width="0.8"/>
<line x1="283.74" y1="136.32" x2="286.94" y2="136.32" stroke="#222" stroke-width="0.8"/>
<line x1="283.74" y1="140.20" x2="286.94" y2="140.20" stroke="#222" stroke-width="0.8"/>
<line x1="296.02" y1="135.03" x2="296.02" y2="138.91" stroke="#222" stroke-width="0.8"/>
<line x1="294.42" y1="135.03" x2="297.62" y2="135.03" stroke="#222" stroke-width="0.8"/>
<line x1="294.42" y1="138.91" x2="297.62" y2="138.91" stroke="#222" stroke-width="0.8"/>
<line x1="306.70" y1="133.74" x2="306.70" y2="138.91" stroke="#222" stroke-width="0.8"/>
<line x1="305.10" y1="133.74" x2="308.30" y2="133.74" stroke="#222" stroke-width="0.8"/>
<line x1="305.10" y1="138.91" x2="308.30" y2="138.91" stroke="#222" stroke-width="0.8"/>
<line x1="317.38" y1="135.68" x2="317.38" y2="139.55" stroke="#222" stroke-width="0.8"/>
<line x1="315.78" y1="135.68" x2="318.98" y2="135.68" stroke="#222" stroke-width="0.8"/>
<line x1="315.78" y1="139.55" x2="318.98" y2="139.55" stroke="#222" stroke-width="0.8"/>
<circle cx="253.30" cy="131.16" r="2.6" fill="#5b5bf5" stroke="none" stroke-width="1"/>
<circle cx="263.98" cy="133.74" r="2.6" fill="#5b5bf5" stroke="none" stroke-width="1"/>
<circle cx="274.66" cy="133.74" r="2.6" fill="#5b5bf5" stroke="none" stroke-width="1"/>
<circle cx="285.34" cy="138.26" r="2.6" fill="#5b5bf5" stroke="none" stroke-width="1"/>
<circle cx="296.02" cy="136.97" r="2.6" fill="#5b5bf5" stroke="none" stroke-width="1"/>
<circle cx="306.70" cy="136.32" r="2.6" fill="#5b5bf5" stroke="none" stroke-width="1"/>
<circle cx="317.38" cy="137.62" r="2.6" fill="#5b5bf5" stroke="none" stroke-width="1"/>
<text x="285.30" y="233.00" font-size="8.75" text-anchor="middle" fill="#222">RSL3 (µM)</text>
<text x="211.60" y="170.70" font-size="9.9" font-weight="bold" text-anchor="middle" fill="#000" transform="rotate(-90 211.60 170.70)">SNU-484</text>
<text x="224.40" y="163.90" font-size="8.8" text-anchor="middle" fill="#222" transform="rotate(-90 224.40 163.90)">Cell viability (%)</text>
<line x1="324.40" y1="153.20" x2="342.80" y2="153.20" stroke="#8c8c8c" stroke-width="1.0"/>
<circle cx="333.60" cy="153.20" r="1.9" fill="#8c8c8c" stroke="none" stroke-width="1"/>
<text x="345.00" y="155.40" font-size="6.8" fill="#333" letter-spacing="0.12">RSL3</text>
<line x1="324.40" y1="161.60" x2="342.80" y2="161.60" stroke="#ffc000" stroke-width="1.0"/>
<circle cx="333.60" cy="161.60" r="1.9" fill="#ffc000" stroke="none" stroke-width="1"/>
<text x="345.00" y="163.80" font-size="6.8" fill="#333" letter-spacing="0.12">RSL3&#160;+&#160;Fer-1</text>
<line x1="324.40" y1="169.90" x2="342.80" y2="169.90" stroke="#1a1a1a" stroke-width="1.0"/>
<circle cx="333.60" cy="169.90" r="1.9" fill="#1a1a1a" stroke="none" stroke-width="1"/>
<text x="345.00" y="172.10" font-size="6.8" fill="#333" letter-spacing="0.12">RSL3&#160;+&#160;Darapladib</text>
<line x1="324.40" y1="177.90" x2="342.80" y2="177.90" stroke="#5b5bf5" stroke-width="1.0"/>
<circle cx="333.60" cy="177.90" r="1.9" fill="#5b5bf5" stroke="none" stroke-width="1"/>
<text x="345.00" y="180.10" font-size="6.8" fill="#333" letter-spacing="0.12">RSL3&#160;+&#160;Darapladib&#160;+&#160;Fer-1</text>
<text x="329.1" y="194.6" font-size="6.8" fill="#a0a0a0">IC<tspan font-size="4.2" dy="1.5">50</tspan><tspan dy="-1.5"> : 0.6394 µM</tspan></text>
<text x="329.1" y="203.7" font-size="6.8" fill="#222">IC<tspan font-size="4.2" dy="1.5">50</tspan><tspan dy="-1.5"> : 0.2688 µM</tspan></text>
<defs><filter id="h11" x="0" y="0" width="100%" height="100%" color-interpolation-filters="sRGB">
<feTurbulence type="fractalNoise" baseFrequency="0.07" numOctaves="2" seed="1"/>
<feColorMatrix type="matrix" values="1 0 0 0 0  1 0 0 0 0  1 0 0 0 0  0 0 0 0 1" result="A"/>
<feTurbulence type="fractalNoise" baseFrequency="0.45" numOctaves="3" seed="2"/>
<feColorMatrix type="matrix" values="1 0 0 0 0  1 0 0 0 0  1 0 0 0 0  0 0 0 0 1"/>
<feComponentTransfer><feFuncR type="table" tableValues="0 0.02 0.08 0.2 0.45 0.8 1"/><feFuncG type="table" tableValues="0 0.02 0.08 0.2 0.45 0.8 1"/><feFuncB type="table" tableValues="0 0.02 0.08 0.2 0.45 0.8 1"/></feComponentTransfer>
<feColorMatrix type="matrix" values="1 0 0 0 0  1 0 0 0 0  1 0 0 0 0  0 0 0 0 1" result="B"/>
<feComposite in="A" in2="B" operator="arithmetic" k1="0" k2="0.3" k3="0.7" k4="0.080"/>
<feGaussianBlur stdDeviation="0.5"/>
</filter><filter id="h12" x="0" y="0" width="100%" height="100%" color-interpolation-filters="sRGB">
<feTurbulence type="fractalNoise" baseFrequency="0.09" numOctaves="2" seed="3"/>
<feColorMatrix type="matrix" values="1 0 0 0 0  1 0 0 0 0  1 0 0 0 0  0 0 0 0 1" result="A"/>
<feTurbulence type="fractalNoise" baseFrequency="0.28" numOctaves="3" seed="4"/>
<feColorMatrix type="matrix" values="1 0 0 0 0  1 0 0 0 0  1 0 0 0 0  0 0 0 0 1"/>
<feComponentTransfer><feFuncR type="table" tableValues="0 0 0.02 0.15 0.5 0.8 1"/><feFuncG type="table" tableValues="0 0 0.02 0.15 0.5 0.8 1"/><feFuncB type="table" tableValues="0 0 0.02 0.15 0.5 0.8 1"/></feComponentTransfer>
<feColorMatrix type="matrix" values="1 0 0 0 0  1 0 0 0 0  1 0 0 0 0  0 0 0 0 1" result="B"/>
<feComposite in="A" in2="B" operator="arithmetic" k1="0" k2="0.2" k3="0.55" k4="0.110"/>
<feGaussianBlur stdDeviation="0.55"/>
</filter><filter id="h13" x="0" y="0" width="100%" height="100%" color-interpolation-filters="sRGB">
<feTurbulence type="fractalNoise" baseFrequency="0.07" numOctaves="2" seed="5"/>
<feColorMatrix type="matrix" values="1 0 0 0 0  1 0 0 0 0  1 0 0 0 0  0 0 0 0 1" result="A"/>
<feTurbulence type="fractalNoise" baseFrequency="0.45" numOctaves="3" seed="6"/>
<feColorMatrix type="matrix" values="1 0 0 0 0  1 0 0 0 0  1 0 0 0 0  0 0 0 0 1"/>
<feComponentTransfer><feFuncR type="table" tableValues="0 0.02 0.08 0.2 0.45 0.8 1"/><feFuncG type="table" tableValues="0 0.02 0.08 0.2 0.45 0.8 1"/><feFuncB type="table" tableValues="0 0.02 0.08 0.2 0.45 0.8 1"/></feComponentTransfer>
<feColorMatrix type="matrix" values="1 0 0 0 0  1 0 0 0 0  1 0 0 0 0  0 0 0 0 1" result="B"/>
<feComposite in="A" in2="B" operator="arithmetic" k1="0" k2="0.3" k3="0.7" k4="0.070"/>
<feGaussianBlur stdDeviation="0.5"/>
</filter><filter id="h21" x="0" y="0" width="100%" height="100%" color-interpolation-filters="sRGB">
<feTurbulence type="fractalNoise" baseFrequency="0.07" numOctaves="2" seed="7"/>
<feColorMatrix type="matrix" values="1 0 0 0 0  1 0 0 0 0  1 0 0 0 0  0 0 0 0 1" result="A"/>
<feTurbulence type="fractalNoise" baseFrequency="0.45" numOctaves="3" seed="8"/>
<feColorMatrix type="matrix" values="1 0 0 0 0  1 0 0 0 0  1 0 0 0 0  0 0 0 0 1"/>
<feComponentTransfer><feFuncR type="table" tableValues="0 0.02 0.08 0.2 0.45 0.8 1"/><feFuncG type="table" tableValues="0 0.02 0.08 0.2 0.45 0.8 1"/><feFuncB type="table" tableValues="0 0.02 0.08 0.2 0.45 0.8 1"/></feComponentTransfer>
<feColorMatrix type="matrix" values="1 0 0 0 0  1 0 0 0 0  1 0 0 0 0  0 0 0 0 1" result="B"/>
<feComposite in="A" in2="B" operator="arithmetic" k1="0" k2="0.35" k3="0.7" k4="0.045"/>
<feGaussianBlur stdDeviation="0.5"/>
</filter><filter id="h22" x="0" y="0" width="100%" height="100%" color-interpolation-filters="sRGB">
<feTurbulence type="fractalNoise" baseFrequency="0.05" numOctaves="2" seed="9"/>
<feColorMatrix type="matrix" values="1 0 0 0 0  1 0 0 0 0  1 0 0 0 0  0 0 0 0 1" result="A"/>
<feTurbulence type="fractalNoise" baseFrequency="0.5" numOctaves="2" seed="10"/>
<feColorMatrix type="matrix" values="1 0 0 0 0  1 0 0 0 0  1 0 0 0 0  0 0 0 0 1" result="B"/>
<feComposite in="A" in2="B" operator="arithmetic" k1="0" k2="0.15" k3="0.06" k4="0.185"/>
<feGaussianBlur stdDeviation="0.5"/>
</filter><filter id="h23" x="0" y="0" width="100%" height="100%" color-interpolation-filters="sRGB">
<feTurbulence type="fractalNoise" baseFrequency="0.07" numOctaves="2" seed="11"/>
<feColorMatrix type="matrix" values="1 0 0 0 0  1 0 0 0 0  1 0 0 0 0  0 0 0 0 1" result="A"/>
<feTurbulence type="fractalNoise" baseFrequency="0.45" numOctaves="3" seed="12"/>
<feColorMatrix type="matrix" values="1 0 0 0 0  1 0 0 0 0  1 0 0 0 0  0 0 0 0 1"/>
<feComponentTransfer><feFuncR type="table" tableValues="0 0.02 0.08 0.2 0.45 0.8 1"/><feFuncG type="table" tableValues="0 0.02 0.08 0.2 0.45 0.8 1"/><feFuncB type="table" tableValues="0 0.02 0.08 0.2 0.45 0.8 1"/></feComponentTransfer>
<feColorMatrix type="matrix" values="1 0 0 0 0  1 0 0 0 0  1 0 0 0 0  0 0 0 0 1" result="B"/>
<feComposite in="A" in2="B" operator="arithmetic" k1="0" k2="0.35" k3="0.7" k4="0.045"/>
<feGaussianBlur stdDeviation="0.5"/>
</filter><filter id="s11" x="0" y="0" width="100%" height="100%" color-interpolation-filters="sRGB">
<feTurbulence type="fractalNoise" baseFrequency="0.07" numOctaves="2" seed="13"/>
<feColorMatrix type="matrix" values="1 0 0 0 0  1 0 0 0 0  1 0 0 0 0  0 0 0 0 1" result="A"/>
<feTurbulence type="fractalNoise" baseFrequency="0.6" numOctaves="3" seed="14"/>
<feColorMatrix type="matrix" values="1 0 0 0 0  1 0 0 0 0  1 0 0 0 0  0 0 0 0 1"/>
<feComponentTransfer><feFuncR type="table" tableValues="0 0 0 0.08 0.35 0.8 1"/><feFuncG type="table" tableValues="0 0 0 0.08 0.35 0.8 1"/><feFuncB type="table" tableValues="0 0 0 0.08 0.35 0.8 1"/></feComponentTransfer>
<feColorMatrix type="matrix" values="1 0 0 0 0  1 0 0 0 0  1 0 0 0 0  0 0 0 0 1" result="B"/>
<feComposite in="A" in2="B" operator="arithmetic" k1="0" k2="0.25" k3="0.42" k4="0.145"/>
<feGaussianBlur stdDeviation="0.55"/>
</filter><filter id="s12" x="0" y="0" width="100%" height="100%" color-interpolation-filters="sRGB">
<feTurbulence type="fractalNoise" baseFrequency="0.07" numOctaves="2" seed="15"/>
<feColorMatrix type="matrix" values="1 0 0 0 0  1 0 0 0 0  1 0 0 0 0  0 0 0 0 1" result="A"/>
<feTurbulence type="fractalNoise" baseFrequency="0.4" numOctaves="3" seed="16"/>
<feColorMatrix type="matrix" values="1 0 0 0 0  1 0 0 0 0  1 0 0 0 0  0 0 0 0 1"/>
<feComponentTransfer><feFuncR type="table" tableValues="0 0 0 0.02 0.3 0.9 1"/><feFuncG type="table" tableValues="0 0 0 0.02 0.3 0.9 1"/><feFuncB type="table" tableValues="0 0 0 0.02 0.3 0.9 1"/></feComponentTransfer>
<feColorMatrix type="matrix" values="1 0 0 0 0  1 0 0 0 0  1 0 0 0 0  0 0 0 0 1" result="B"/>
<feComposite in="A" in2="B" operator="arithmetic" k1="0" k2="0.25" k3="0.5" k4="0.145"/>
<feGaussianBlur stdDeviation="0.55"/>
</filter><filter id="s13" x="0" y="0" width="100%" height="100%" color-interpolation-filters="sRGB">
<feTurbulence type="fractalNoise" baseFrequency="0.07" numOctaves="2" seed="17"/>
<feColorMatrix type="matrix" values="1 0 0 0 0  1 0 0 0 0  1 0 0 0 0  0 0 0 0 1" result="A"/>
<feTurbulence type="fractalNoise" baseFrequency="0.55" numOctaves="3" seed="18"/>
<feColorMatrix type="matrix" values="1 0 0 0 0  1 0 0 0 0  1 0 0 0 0  0 0 0 0 1"/>
<feComponentTransfer><feFuncR type="table" tableValues="0 0 0 0.08 0.35 0.8 1"/><feFuncG type="table" tableValues="0 0 0 0.08 0.35 0.8 1"/><feFuncB type="table" tableValues="0 0 0 0.08 0.35 0.8 1"/></feComponentTransfer>
<feColorMatrix type="matrix" values="1 0 0 0 0  1 0 0 0 0  1 0 0 0 0  0 0 0 0 1" result="B"/>
<feComposite in="A" in2="B" operator="arithmetic" k1="0" k2="0.25" k3="0.45" k4="0.155"/>
<feGaussianBlur stdDeviation="0.55"/>
</filter><filter id="s21" x="0" y="0" width="100%" height="100%" color-interpolation-filters="sRGB">
<feTurbulence type="fractalNoise" baseFrequency="0.07" numOctaves="2" seed="19"/>
<feColorMatrix type="matrix" values="1 0 0 0 0  1 0 0 0 0  1 0 0 0 0  0 0 0 0 1" result="A"/>
<feTurbulence type="fractalNoise" baseFrequency="0.6" numOctaves="3" seed="20"/>
<feColorMatrix type="matrix" values="1 0 0 0 0  1 0 0 0 0  1 0 0 0 0  0 0 0 0 1"/>
<feComponentTransfer><feFuncR type="table" tableValues="0 0 0 0.08 0.35 0.8 1"/><feFuncG type="table" tableValues="0 0 0 0.08 0.35 0.8 1"/><feFuncB type="table" tableValues="0 0 0 0.08 0.35 0.8 1"/></feComponentTransfer>
<feColorMatrix type="matrix" values="1 0 0 0 0  1 0 0 0 0  1 0 0 0 0  0 0 0 0 1" result="B"/>
<feComposite in="A" in2="B" operator="arithmetic" k1="0" k2="0.25" k3="0.42" k4="0.145"/>
<feGaussianBlur stdDeviation="0.55"/>
</filter><filter id="s22" x="0" y="0" width="100%" height="100%" color-interpolation-filters="sRGB">
<feTurbulence type="fractalNoise" baseFrequency="0.07" numOctaves="2" seed="21"/>
<feColorMatrix type="matrix" values="1 0 0 0 0  1 0 0 0 0  1 0 0 0 0  0 0 0 0 1" result="A"/>
<feTurbulence type="fractalNoise" baseFrequency="0.4" numOctaves="3" seed="22"/>
<feColorMatrix type="matrix" values="1 0 0 0 0  1 0 0 0 0  1 0 0 0 0  0 0 0 0 1"/>
<feComponentTransfer><feFuncR type="table" tableValues="0 0 0 0.02 0.3 0.9 1"/><feFuncG type="table" tableValues="0 0 0 0.02 0.3 0.9 1"/><feFuncB type="table" tableValues="0 0 0 0.02 0.3 0.9 1"/></feComponentTransfer>
<feColorMatrix type="matrix" values="1 0 0 0 0  1 0 0 0 0  1 0 0 0 0  0 0 0 0 1" result="B"/>
<feComposite in="A" in2="B" operator="arithmetic" k1="0" k2="0.25" k3="0.45" k4="0.125"/>
<feGaussianBlur stdDeviation="0.55"/>
</filter><filter id="s23" x="0" y="0" width="100%" height="100%" color-interpolation-filters="sRGB">
<feTurbulence type="fractalNoise" baseFrequency="0.06" numOctaves="2" seed="23"/>
<feColorMatrix type="matrix" values="1 0 0 0 0  1 0 0 0 0  1 0 0 0 0  0 0 0 0 1" result="A"/>
<feTurbulence type="fractalNoise" baseFrequency="0.5" numOctaves="3" seed="24"/>
<feColorMatrix type="matrix" values="1 0 0 0 0  1 0 0 0 0  1 0 0 0 0  0 0 0 0 1"/>
<feComponentTransfer><feFuncR type="table" tableValues="0 0 0 0.08 0.35 0.8 1"/><feFuncG type="table" tableValues="0 0 0 0.08 0.35 0.8 1"/><feFuncB type="table" tableValues="0 0 0 0.08 0.35 0.8 1"/></feComponentTransfer>
<feColorMatrix type="matrix" values="1 0 0 0 0  1 0 0 0 0  1 0 0 0 0  0 0 0 0 1" result="B"/>
<feComposite in="A" in2="B" operator="arithmetic" k1="0" k2="0.4" k3="0.5" k4="0.070"/>
<feGaussianBlur stdDeviation="0.55"/>
</filter></defs>
<rect x="509.50" y="31.30" width="56.70" height="42.00" fill="#000" stroke="none" stroke-width="1"/>
<rect x="509.50" y="31.30" width="56.70" height="42.00" fill="#000" stroke="none" stroke-width="1" filter="url(#h11)"/>
<rect x="556.30" y="69.20" width="7.10" height="2.00" fill="#fff" stroke="none" stroke-width="1"/>
<rect x="567.60" y="31.30" width="56.30" height="42.00" fill="#000" stroke="none" stroke-width="1"/>
<rect x="567.60" y="31.30" width="56.30" height="42.00" fill="#000" stroke="none" stroke-width="1" filter="url(#h12)"/>
<rect x="614.00" y="69.20" width="7.10" height="2.00" fill="#fff" stroke="none" stroke-width="1"/>
<rect x="625.20" y="31.30" width="56.30" height="42.00" fill="#000" stroke="none" stroke-width="1"/>
<rect x="625.20" y="31.30" width="56.30" height="42.00" fill="#000" stroke="none" stroke-width="1" filter="url(#h13)"/>
<rect x="671.60" y="69.20" width="7.10" height="2.00" fill="#fff" stroke="none" stroke-width="1"/>
<rect x="509.50" y="74.90" width="56.70" height="42.00" fill="#000" stroke="none" stroke-width="1"/>
<rect x="509.50" y="74.90" width="56.70" height="42.00" fill="#000" stroke="none" stroke-width="1" filter="url(#h21)"/>
<rect x="556.30" y="112.80" width="7.10" height="2.00" fill="#fff" stroke="none" stroke-width="1"/>
<rect x="567.60" y="74.90" width="56.30" height="42.00" fill="#000" stroke="none" stroke-width="1"/>
<rect x="567.60" y="74.90" width="56.30" height="42.00" fill="#000" stroke="none" stroke-width="1" filter="url(#h22)"/>
<rect x="614.00" y="112.80" width="7.10" height="2.00" fill="#fff" stroke="none" stroke-width="1"/>
<rect x="625.20" y="74.90" width="56.30" height="42.00" fill="#000" stroke="none" stroke-width="1"/>
<rect x="625.20" y="74.90" width="56.30" height="42.00" fill="#000" stroke="none" stroke-width="1" filter="url(#h23)"/>
<rect x="671.60" y="112.80" width="7.10" height="2.00" fill="#fff" stroke="none" stroke-width="1"/>
<rect x="509.50" y="130.70" width="56.70" height="42.60" fill="#000" stroke="none" stroke-width="1"/>
<rect x="509.50" y="130.70" width="56.70" height="42.60" fill="#000" stroke="none" stroke-width="1" filter="url(#s11)"/>
<rect x="556.30" y="169.20" width="7.10" height="2.00" fill="#fff" stroke="none" stroke-width="1"/>
<rect x="567.60" y="130.70" width="56.30" height="42.60" fill="#000" stroke="none" stroke-width="1"/>
<rect x="567.60" y="130.70" width="56.30" height="42.60" fill="#000" stroke="none" stroke-width="1" filter="url(#s12)"/>
<rect x="614.00" y="169.20" width="7.10" height="2.00" fill="#fff" stroke="none" stroke-width="1"/>
<rect x="625.20" y="130.70" width="56.30" height="42.60" fill="#000" stroke="none" stroke-width="1"/>
<rect x="625.20" y="130.70" width="56.30" height="42.60" fill="#000" stroke="none" stroke-width="1" filter="url(#s13)"/>
<rect x="671.60" y="169.20" width="7.10" height="2.00" fill="#fff" stroke="none" stroke-width="1"/>
<rect x="509.50" y="175.00" width="56.70" height="41.70" fill="#000" stroke="none" stroke-width="1"/>
<rect x="509.50" y="175.00" width="56.70" height="41.70" fill="#000" stroke="none" stroke-width="1" filter="url(#s21)"/>
<rect x="556.30" y="212.60" width="7.10" height="2.00" fill="#fff" stroke="none" stroke-width="1"/>
<rect x="567.60" y="175.00" width="56.30" height="41.70" fill="#000" stroke="none" stroke-width="1"/>
<rect x="567.60" y="175.00" width="56.30" height="41.70" fill="#000" stroke="none" stroke-width="1" filter="url(#s22)"/>
<rect x="614.00" y="212.60" width="7.10" height="2.00" fill="#fff" stroke="none" stroke-width="1"/>
<rect x="625.20" y="175.00" width="56.30" height="41.70" fill="#000" stroke="none" stroke-width="1"/>
<rect x="625.20" y="175.00" width="56.30" height="41.70" fill="#000" stroke="none" stroke-width="1" filter="url(#s23)"/>
<rect x="671.60" y="212.60" width="7.10" height="2.00" fill="#fff" stroke="none" stroke-width="1"/>
<rect x="566.20" y="30.30" width="1.40" height="87.60" fill="#fff" stroke="none" stroke-width="1"/>
<rect x="623.90" y="30.30" width="1.30" height="87.60" fill="#fff" stroke="none" stroke-width="1"/>
<rect x="566.20" y="129.70" width="1.40" height="88.00" fill="#fff" stroke="none" stroke-width="1"/>
<rect x="623.90" y="129.70" width="1.30" height="88.00" fill="#fff" stroke="none" stroke-width="1"/>
<rect x="508.00" y="73.30" width="175.00" height="1.60" fill="#fff" stroke="none" stroke-width="1"/>
<rect x="508.00" y="173.30" width="175.00" height="1.70" fill="#fff" stroke="none" stroke-width="1"/>
<rect x="505.00" y="28.30" width="4.50" height="91.60" fill="#fff" stroke="none" stroke-width="1"/>
<rect x="681.50" y="28.30" width="4.00" height="91.60" fill="#fff" stroke="none" stroke-width="1"/>
<rect x="505.00" y="28.30" width="180.00" height="3.00" fill="#fff" stroke="none" stroke-width="1"/>
<rect x="505.00" y="116.90" width="180.00" height="3.00" fill="#fff" stroke="none" stroke-width="1"/>
<rect x="505.00" y="127.70" width="4.50" height="92.00" fill="#fff" stroke="none" stroke-width="1"/>
<rect x="681.50" y="127.70" width="4.00" height="92.00" fill="#fff" stroke="none" stroke-width="1"/>
<rect x="505.00" y="127.70" width="180.00" height="3.00" fill="#fff" stroke="none" stroke-width="1"/>
<rect x="505.00" y="216.70" width="180.00" height="3.00" fill="#fff" stroke="none" stroke-width="1"/>
<circle cx="587.80" cy="91.50" r="1.6" fill="none" stroke="#aaa" stroke-width="0.8"/>
<circle cx="586.50" cy="93.80" r="0.9" fill="#999" stroke="none" stroke-width="1"/>
<circle cx="586.50" cy="99.90" r="0.8" fill="#999" stroke="none" stroke-width="1"/>
<circle cx="589.50" cy="95.20" r="0.6" fill="#999" stroke="none" stroke-width="1"/>
<circle cx="608.80" cy="108.50" r="1.8" fill="#888" stroke="#aaa" stroke-width="0.6"/>
<text x="533.80" y="26.80" font-size="7.6" font-weight="bold" text-anchor="middle" fill="#000">DMSO</text>
<text x="593.50" y="26.80" font-size="7.6" font-weight="bold" text-anchor="middle" fill="#000">RSL3</text>
<text x="649.90" y="26.80" font-size="7.6" font-weight="bold" text-anchor="middle" fill="#000">RSL3 + Fer-1</text>
<text x="533.80" y="126.70" font-size="7.6" font-weight="bold" text-anchor="middle" fill="#000">DMSO</text>
<text x="593.50" y="126.70" font-size="7.6" font-weight="bold" text-anchor="middle" fill="#000">RSL3</text>
<text x="649.90" y="126.70" font-size="7.6" font-weight="bold" text-anchor="middle" fill="#000">RSL3 + Fer-1</text>
<text x="504.80" y="56.40" font-size="7.6" font-weight="bold" text-anchor="end" fill="#000">DMSO</text>
<text x="504.80" y="154.40" font-size="7.6" font-weight="bold" text-anchor="end" fill="#000">DMSO</text>
<text x="504.80" y="97.80" font-size="7.7" font-weight="bold" text-anchor="end" fill="#000">Darapladib</text>
<text x="504.80" y="197.00" font-size="7.7" font-weight="bold" text-anchor="end" fill="#000">Darapladib</text>
<line x1="460.40" y1="28.80" x2="460.40" y2="114.90" stroke="#000" stroke-width="1.3"/>
<line x1="460.40" y1="129.60" x2="460.40" y2="215.60" stroke="#000" stroke-width="1.3"/>
<text x="454.70" y="72.30" font-size="9.7" font-weight="bold" text-anchor="middle" fill="#000" transform="rotate(-90 454.70 72.30)">Hs746T</text>
<text x="454.30" y="173.50" font-size="9.9" font-weight="bold" text-anchor="middle" fill="#000" transform="rotate(-90 454.30 173.50)">SNU-484</text>
<text x="61.50" y="256.00" font-size="9.9" font-weight="bold" text-anchor="middle" fill="#000">Hs746T</text>
<text x="2.00" y="294.70" font-size="8.75" fill="#222">RSL3 (µM)</text>
<rect x="46.40" y="299.20" width="25.50" height="73.50" fill="#cfcbf0" stroke="none" stroke-width="1" rx="1"/>
<circle cx="52.90" cy="305.80" r="5.3" fill="#3a1ec8" stroke="#f8f6ff" stroke-width="0.9"/>
<circle cx="65.40" cy="305.80" r="5.3" fill="#3a22c2" stroke="#f8f6ff" stroke-width="0.9"/>
<text x="28.00" y="308.70" font-size="8.2" fill="#222">0</text>
<circle cx="52.90" cy="318.20" r="5.3" fill="#3d1fc4" stroke="#f8f6ff" stroke-width="0.9"/>
<circle cx="65.40" cy="318.20" r="5.3" fill="#dcd7f0" stroke="#f8f6ff" stroke-width="0.9"/>
<text x="28.00" y="321.10" font-size="8.2" fill="#222">0.05</text>
<circle cx="52.90" cy="330.30" r="5.3" fill="#5a2ad4" stroke="#f8f6ff" stroke-width="0.9"/>
<circle cx="65.40" cy="330.30" r="5.3" fill="#dcd7f0" stroke="#f8f6ff" stroke-width="0.9"/>
<text x="28.00" y="333.20" font-size="8.2" fill="#222">0.1</text>
<circle cx="52.90" cy="342.50" r="5.3" fill="#7a3ad8" stroke="#f8f6ff" stroke-width="0.9"/>
<circle cx="65.40" cy="342.50" r="5.3" fill="#dcd7f0" stroke="#f8f6ff" stroke-width="0.9"/>
<text x="28.00" y="345.40" font-size="8.2" fill="#222">0.25</text>
<circle cx="52.90" cy="354.80" r="5.3" fill="#a978dc" stroke="#f8f6ff" stroke-width="0.9"/>
<circle cx="65.40" cy="354.80" r="5.3" fill="#dcd7f0" stroke="#f8f6ff" stroke-width="0.9"/>
<text x="28.00" y="357.70" font-size="8.2" fill="#222">0.5</text>
<circle cx="52.90" cy="367.10" r="5.3" fill="#b99ae4" stroke="#f8f6ff" stroke-width="0.9"/>
<circle cx="65.40" cy="367.10" r="5.3" fill="#dcd7f0" stroke="#f8f6ff" stroke-width="0.9"/>
<text x="28.00" y="370.00" font-size="8.2" fill="#222">1.0</text>
<text x="54.30" y="296.30" font-size="8.7" fill="#222" transform="rotate(-45 54.30 296.30)">DMSO</text>
<text x="66.80" y="296.30" font-size="8.7" fill="#222" transform="rotate(-45 66.80 296.30)">Darapladib</text>
<text x="61.80" y="391.50" font-size="9.9" font-weight="bold" text-anchor="middle" fill="#000">SNU-484</text>
<text x="4.60" y="428.00" font-size="8.75" fill="#222">RSL3 (µM)</text>
<rect x="48.50" y="432.20" width="25.80" height="74.10" fill="#cfcbf0" stroke="none" stroke-width="1" rx="1"/>
<circle cx="55.10" cy="438.70" r="5.3" fill="#3c22b8" stroke="#f8f6ff" stroke-width="0.9"/>
<circle cx="67.70" cy="438.70" r="5.3" fill="#3a24ba" stroke="#f8f6ff" stroke-width="0.9"/>
<text x="30.30" y="441.60" font-size="8.2" fill="#222">0</text>
<circle cx="55.10" cy="451.10" r="5.3" fill="#3c22ba" stroke="#f8f6ff" stroke-width="0.9"/>
<circle cx="67.70" cy="451.10" r="5.3" fill="#dcd8ee" stroke="#f8f6ff" stroke-width="0.9"/>
<text x="30.30" y="454.00" font-size="8.2" fill="#222">0.05</text>
<circle cx="55.10" cy="463.40" r="5.3" fill="#3c22bc" stroke="#f8f6ff" stroke-width="0.9"/>
<circle cx="67.70" cy="463.40" r="5.3" fill="#dcd8ee" stroke="#f8f6ff" stroke-width="0.9"/>
<text x="30.30" y="466.30" font-size="8.2" fill="#222">0.1</text>
<circle cx="55.10" cy="475.70" r="5.3" fill="#4426c0" stroke="#f8f6ff" stroke-width="0.9"/>
<circle cx="67.70" cy="475.70" r="5.3" fill="#dcd8ee" stroke="#f8f6ff" stroke-width="0.9"/>
<text x="30.30" y="478.60" font-size="8.2" fill="#222">0.25</text>
<circle cx="55.10" cy="488.00" r="5.3" fill="#4a26c6" stroke="#f8f6ff" stroke-width="0.9"/>
<circle cx="67.70" cy="488.00" r="5.3" fill="#dcd8ee" stroke="#f8f6ff" stroke-width="0.9"/>
<text x="30.30" y="490.90" font-size="8.2" fill="#222">0.5</text>
<circle cx="55.10" cy="500.40" r="5.3" fill="#6a2ad2" stroke="#f8f6ff" stroke-width="0.9"/>
<circle cx="67.70" cy="500.40" r="5.3" fill="#dcd8ee" stroke="#f8f6ff" stroke-width="0.9"/>
<text x="30.30" y="503.30" font-size="8.2" fill="#222">1.0</text>
<text x="56.50" y="429.30" font-size="8.7" fill="#222" transform="rotate(-45 56.50 429.30)">DMSO</text>
<text x="69.10" y="429.30" font-size="8.7" fill="#222" transform="rotate(-45 69.10 429.30)">Darapladib</text>
<text x="209.70" y="255.20" font-size="9.9" font-weight="bold" text-anchor="middle" fill="#000">Hs746T</text>
<line x1="167.50" y1="265.50" x2="167.50" y2="342.90" stroke="#111" stroke-width="1.1"/>
<line x1="164.30" y1="342.40" x2="167.50" y2="342.40" stroke="#111" stroke-width="1.0"/>
<text x="164.10" y="344.80" font-size="6.9" text-anchor="end" fill="#222">0</text>
<line x1="164.30" y1="329.58" x2="167.50" y2="329.58" stroke="#111" stroke-width="1.0"/>
<text x="164.10" y="331.98" font-size="6.9" text-anchor="end" fill="#222">20</text>
<line x1="164.30" y1="316.77" x2="167.50" y2="316.77" stroke="#111" stroke-width="1.0"/>
<text x="164.10" y="319.17" font-size="6.9" text-anchor="end" fill="#222">40</text>
<line x1="164.30" y1="303.95" x2="167.50" y2="303.95" stroke="#111" stroke-width="1.0"/>
<text x="164.10" y="306.35" font-size="6.9" text-anchor="end" fill="#222">60</text>
<line x1="164.30" y1="291.13" x2="167.50" y2="291.13" stroke="#111" stroke-width="1.0"/>
<text x="164.10" y="293.53" font-size="6.9" text-anchor="end" fill="#222">80</text>
<line x1="164.30" y1="278.32" x2="167.50" y2="278.32" stroke="#111" stroke-width="1.0"/>
<text x="164.10" y="280.72" font-size="6.9" text-anchor="end" fill="#222">100</text>
<line x1="164.30" y1="265.50" x2="167.50" y2="265.50" stroke="#111" stroke-width="1.0"/>
<text x="164.10" y="267.90" font-size="6.9" text-anchor="end" fill="#222">120</text>
<line x1="167.00" y1="342.40" x2="245.90" y2="342.40" stroke="#111" stroke-width="1.1"/>
<line x1="176.50" y1="342.40" x2="176.50" y2="345.00" stroke="#111" stroke-width="0.9"/>
<line x1="189.10" y1="342.40" x2="189.10" y2="345.00" stroke="#111" stroke-width="0.9"/>
<line x1="201.00" y1="342.40" x2="201.00" y2="345.00" stroke="#111" stroke-width="0.9"/>
<line x1="213.00" y1="342.40" x2="213.00" y2="345.00" stroke="#111" stroke-width="0.9"/>
<line x1="225.50" y1="342.40" x2="225.50" y2="345.00" stroke="#111" stroke-width="0.9"/>
<line x1="237.40" y1="342.40" x2="237.40" y2="345.00" stroke="#111" stroke-width="0.9"/>
<rect x="172.90" y="337.27" width="7.20" height="5.13" fill="#fff" stroke="#111" stroke-width="1.2"/>
<circle cx="174.70" cy="337.06" r="0.8" fill="#111" stroke="none" stroke-width="1"/>
<circle cx="176.50" cy="336.85" r="0.8" fill="#111" stroke="none" stroke-width="1"/>
<circle cx="178.30" cy="337.45" r="0.8" fill="#111" stroke="none" stroke-width="1"/>
<rect x="185.50" y="326.38" width="7.20" height="16.02" fill="#fff" stroke="#111" stroke-width="1.2"/>
<circle cx="187.30" cy="325.87" r="0.8" fill="#111" stroke="none" stroke-width="1"/>
<circle cx="189.10" cy="326.42" r="0.8" fill="#111" stroke="none" stroke-width="1"/>
<circle cx="190.90" cy="326.22" r="0.8" fill="#111" stroke="none" stroke-width="1"/>
<rect x="197.40" y="335.99" width="7.20" height="6.41" fill="#fff" stroke="#111" stroke-width="1.2"/>
<circle cx="199.20" cy="335.46" r="0.8" fill="#111" stroke="none" stroke-width="1"/>
<circle cx="201.00" cy="336.00" r="0.8" fill="#111" stroke="none" stroke-width="1"/>
<circle cx="202.80" cy="335.44" r="0.8" fill="#111" stroke="none" stroke-width="1"/>
<rect x="209.40" y="338.55" width="7.20" height="3.85" fill="#fff" stroke="#111" stroke-width="1.2"/>
<circle cx="211.20" cy="338.48" r="0.8" fill="#111" stroke="none" stroke-width="1"/>
<circle cx="213.00" cy="338.04" r="0.8" fill="#111" stroke="none" stroke-width="1"/>
<circle cx="214.80" cy="338.06" r="0.8" fill="#111" stroke="none" stroke-width="1"/>
<rect x="221.90" y="284.72" width="7.20" height="57.68" fill="#fff" stroke="#111" stroke-width="1.2"/>
<circle cx="223.70" cy="284.63" r="0.8" fill="#111" stroke="none" stroke-width="1"/>
<circle cx="225.50" cy="285.12" r="0.8" fill="#111" stroke="none" stroke-width="1"/>
<circle cx="227.30" cy="284.27" r="0.8" fill="#111" stroke="none" stroke-width="1"/>
<rect x="233.80" y="334.71" width="7.20" height="7.69" fill="#fff" stroke="#111" stroke-width="1.2"/>
<circle cx="235.60" cy="334.38" r="0.8" fill="#111" stroke="none" stroke-width="1"/>
<circle cx="237.40" cy="334.86" r="0.8" fill="#111" stroke="none" stroke-width="1"/>
<circle cx="239.20" cy="335.25" r="0.8" fill="#111" stroke="none" stroke-width="1"/>
<text x="147.30" y="302.30" font-size="9.5" text-anchor="middle" fill="#222" transform="rotate(-90 147.30 302.30)">% of PI uptake</text>
<polyline points="188.30,316.40 188.30,269.90 224.70,269.90 224.70,275.80" fill="none" stroke="#888" stroke-width="0.8"/>
<polyline points="226.10,275.80 226.10,269.90 238.10,269.90 238.10,325.30" fill="none" stroke="#888" stroke-width="0.8"/>
<text x="196.3" y="266.5" font-size="4.7" fill="#111" font-weight="bold"><tspan font-style="italic">p</tspan> = 0.0004</text>
<text x="224.4" y="266.5" font-size="4.7" fill="#111" font-weight="bold"><tspan font-style="italic">p</tspan> &lt; 0.0001</text>
<text x="160.30" y="353.00" font-size="8.4" text-anchor="end" fill="#222">RSL3</text>
<line x1="174.10" y1="350.30" x2="176.30" y2="350.30" stroke="#222" stroke-width="0.8"/>
<line x1="185.50" y1="350.10" x2="189.30" y2="350.10" stroke="#111" stroke-width="0.95"/>
<line x1="187.40" y1="348.20" x2="187.40" y2="352.00" stroke="#111" stroke-width="0.95"/>
<line x1="197.70" y1="350.10" x2="201.50" y2="350.10" stroke="#111" stroke-width="0.95"/>
<line x1="199.60" y1="348.20" x2="199.60" y2="352.00" stroke="#111" stroke-width="0.95"/>
<line x1="211.10" y1="350.30" x2="213.30" y2="350.30" stroke="#222" stroke-width="0.8"/>
<line x1="223.50" y1="350.10" x2="227.30" y2="350.10" stroke="#111" stroke-width="0.95"/>
<line x1="225.40" y1="348.20" x2="225.40" y2="352.00" stroke="#111" stroke-width="0.95"/>
<line x1="235.70" y1="350.10" x2="239.50" y2="350.10" stroke="#111" stroke-width="0.95"/>
<line x1="237.60" y1="348.20" x2="237.60" y2="352.00" stroke="#111" stroke-width="0.95"/>
<text x="160.30" y="362.60" font-size="8.4" text-anchor="end" fill="#222">Darapladib</text>
<line x1="174.10" y1="359.90" x2="176.30" y2="359.90" stroke="#222" stroke-width="0.8"/>
<line x1="186.30" y1="359.90" x2="188.50" y2="359.90" stroke="#222" stroke-width="0.8"/>
<line x1="198.50" y1="359.90" x2="200.70" y2="359.90" stroke="#222" stroke-width="0.8"/>
<line x1="210.30" y1="359.70" x2="214.10" y2="359.70" stroke="#111" stroke-width="0.95"/>
<line x1="212.20" y1="357.80" x2="212.20" y2="361.60" stroke="#111" stroke-width="0.95"/>
<line x1="223.50" y1="359.70" x2="227.30" y2="359.70" stroke="#111" stroke-width="0.95"/>
<line x1="225.40" y1="357.80" x2="225.40" y2="361.60" stroke="#111" stroke-width="0.95"/>
<line x1="235.70" y1="359.70" x2="239.50" y2="359.70" stroke="#111" stroke-width="0.95"/>
<line x1="237.60" y1="357.80" x2="237.60" y2="361.60" stroke="#111" stroke-width="0.95"/>
<text x="160.30" y="371.80" font-size="8.4" text-anchor="end" fill="#222">Fer-1</text>
<line x1="174.10" y1="369.10" x2="176.30" y2="369.10" stroke="#222" stroke-width="0.8"/>
<line x1="186.30" y1="369.10" x2="188.50" y2="369.10" stroke="#222" stroke-width="0.8"/>
<line x1="197.70" y1="368.90" x2="201.50" y2="368.90" stroke="#111" stroke-width="0.95"/>
<line x1="199.60" y1="367.00" x2="199.60" y2="370.80" stroke="#111" stroke-width="0.95"/>
<line x1="211.10" y1="369.10" x2="213.30" y2="369.10" stroke="#222" stroke-width="0.8"/>
<line x1="224.30" y1="369.10" x2="226.50" y2="369.10" stroke="#222" stroke-width="0.8"/>
<line x1="235.70" y1="368.90" x2="239.50" y2="368.90" stroke="#111" stroke-width="0.95"/>
<line x1="237.60" y1="367.00" x2="237.60" y2="370.80" stroke="#111" stroke-width="0.95"/>
<text x="203.00" y="391.70" font-size="9.9" font-weight="bold" text-anchor="middle" fill="#000">SNU-484</text>
<line x1="169.70" y1="398.20" x2="169.70" y2="475.80" stroke="#111" stroke-width="1.1"/>
<line x1="166.50" y1="475.30" x2="169.70" y2="475.30" stroke="#111" stroke-width="1.0"/>
<text x="166.30" y="477.70" font-size="6.9" text-anchor="end" fill="#222">0</text>
<line x1="166.50" y1="462.45" x2="169.70" y2="462.45" stroke="#111" stroke-width="1.0"/>
<text x="166.30" y="464.85" font-size="6.9" text-anchor="end" fill="#222">20</text>
<line x1="166.50" y1="449.60" x2="169.70" y2="449.60" stroke="#111" stroke-width="1.0"/>
<text x="166.30" y="452.00" font-size="6.9" text-anchor="end" fill="#222">40</text>
<line x1="166.50" y1="436.75" x2="169.70" y2="436.75" stroke="#111" stroke-width="1.0"/>
<text x="166.30" y="439.15" font-size="6.9" text-anchor="end" fill="#222">60</text>
<line x1="166.50" y1="423.90" x2="169.70" y2="423.90" stroke="#111" stroke-width="1.0"/>
<text x="166.30" y="426.30" font-size="6.9" text-anchor="end" fill="#222">80</text>
<line x1="166.50" y1="411.05" x2="169.70" y2="411.05" stroke="#111" stroke-width="1.0"/>
<text x="166.30" y="413.45" font-size="6.9" text-anchor="end" fill="#222">100</text>
<line x1="166.50" y1="398.20" x2="169.70" y2="398.20" stroke="#111" stroke-width="1.0"/>
<text x="166.30" y="400.60" font-size="6.9" text-anchor="end" fill="#222">120</text>
<line x1="169.20" y1="475.30" x2="245.90" y2="475.30" stroke="#111" stroke-width="1.1"/>
<line x1="177.70" y1="475.30" x2="177.70" y2="477.90" stroke="#111" stroke-width="0.9"/>
<line x1="190.00" y1="475.30" x2="190.00" y2="477.90" stroke="#111" stroke-width="0.9"/>
<line x1="202.00" y1="475.30" x2="202.00" y2="477.90" stroke="#111" stroke-width="0.9"/>
<line x1="214.10" y1="475.30" x2="214.10" y2="477.90" stroke="#111" stroke-width="0.9"/>
<line x1="226.50" y1="475.30" x2="226.50" y2="477.90" stroke="#111" stroke-width="0.9"/>
<line x1="238.40" y1="475.30" x2="238.40" y2="477.90" stroke="#111" stroke-width="0.9"/>
<rect x="174.10" y="471.44" width="7.20" height="3.85" fill="#fff" stroke="#111" stroke-width="1.2"/>
<circle cx="175.90" cy="471.54" r="0.8" fill="#111" stroke="none" stroke-width="1"/>
<circle cx="177.70" cy="471.32" r="0.8" fill="#111" stroke="none" stroke-width="1"/>
<circle cx="179.50" cy="472.02" r="0.8" fill="#111" stroke="none" stroke-width="1"/>
<rect x="186.40" y="469.52" width="7.20" height="5.78" fill="#fff" stroke="#111" stroke-width="1.2"/>
<circle cx="188.20" cy="468.97" r="0.8" fill="#111" stroke="none" stroke-width="1"/>
<circle cx="190.00" cy="469.95" r="0.8" fill="#111" stroke="none" stroke-width="1"/>
<circle cx="191.80" cy="469.27" r="0.8" fill="#111" stroke="none" stroke-width="1"/>
<rect x="198.40" y="471.44" width="7.20" height="3.85" fill="#fff" stroke="#111" stroke-width="1.2"/>
<circle cx="200.20" cy="471.02" r="0.8" fill="#111" stroke="none" stroke-width="1"/>
<circle cx="202.00" cy="470.99" r="0.8" fill="#111" stroke="none" stroke-width="1"/>
<circle cx="203.80" cy="471.22" r="0.8" fill="#111" stroke="none" stroke-width="1"/>
<rect x="210.50" y="471.44" width="7.20" height="3.85" fill="#fff" stroke="#111" stroke-width="1.2"/>
<circle cx="212.30" cy="471.82" r="0.8" fill="#111" stroke="none" stroke-width="1"/>
<circle cx="214.10" cy="471.06" r="0.8" fill="#111" stroke="none" stroke-width="1"/>
<circle cx="215.90" cy="471.54" r="0.8" fill="#111" stroke="none" stroke-width="1"/>
<rect x="222.90" y="430.33" width="7.20" height="44.97" fill="#fff" stroke="#111" stroke-width="1.2"/>
<circle cx="224.70" cy="430.49" r="0.8" fill="#111" stroke="none" stroke-width="1"/>
<circle cx="226.50" cy="430.17" r="0.8" fill="#111" stroke="none" stroke-width="1"/>
<circle cx="228.30" cy="430.38" r="0.8" fill="#111" stroke="none" stroke-width="1"/>
<rect x="234.80" y="470.16" width="7.20" height="5.14" fill="#fff" stroke="#111" stroke-width="1.2"/>
<circle cx="236.60" cy="469.64" r="0.8" fill="#111" stroke="none" stroke-width="1"/>
<circle cx="238.40" cy="469.63" r="0.8" fill="#111" stroke="none" stroke-width="1"/>
<circle cx="240.20" cy="469.81" r="0.8" fill="#111" stroke="none" stroke-width="1"/>
<text x="149.10" y="436.20" font-size="9.5" text-anchor="middle" fill="#222" transform="rotate(-90 149.10 436.20)">% of PI uptake</text>
<polyline points="190.30,460.70 190.30,408.40 225.90,408.40 225.90,422.00" fill="none" stroke="#888" stroke-width="0.8"/>
<polyline points="227.30,422.00 227.30,408.40 240.60,408.40 240.60,460.70" fill="none" stroke="#888" stroke-width="0.8"/>
<text x="197.5" y="405.0" font-size="4.7" fill="#111" font-weight="bold"><tspan font-style="italic">p</tspan> &lt; 0.0001</text>
<text x="226.5" y="405.0" font-size="4.7" fill="#111" font-weight="bold"><tspan font-style="italic">p</tspan> &lt; 0.0001</text>
<text x="159.90" y="487.50" font-size="8.4" text-anchor="end" fill="#222">RSL3</text>
<line x1="173.80" y1="484.80" x2="176.00" y2="484.80" stroke="#222" stroke-width="0.8"/>
<line x1="185.10" y1="484.60" x2="188.90" y2="484.60" stroke="#111" stroke-width="0.95"/>
<line x1="187.00" y1="482.70" x2="187.00" y2="486.50" stroke="#111" stroke-width="0.95"/>
<line x1="197.40" y1="484.60" x2="201.20" y2="484.60" stroke="#111" stroke-width="0.95"/>
<line x1="199.30" y1="482.70" x2="199.30" y2="486.50" stroke="#111" stroke-width="0.95"/>
<line x1="210.70" y1="484.80" x2="212.90" y2="484.80" stroke="#222" stroke-width="0.8"/>
<line x1="222.70" y1="484.60" x2="226.50" y2="484.60" stroke="#111" stroke-width="0.95"/>
<line x1="224.60" y1="482.70" x2="224.60" y2="486.50" stroke="#111" stroke-width="0.95"/>
<line x1="235.00" y1="484.60" x2="238.80" y2="484.60" stroke="#111" stroke-width="0.95"/>
<line x1="236.90" y1="482.70" x2="236.90" y2="486.50" stroke="#111" stroke-width="0.95"/>
<text x="159.90" y="497.30" font-size="8.4" text-anchor="end" fill="#222">Darapladib</text>
<line x1="173.80" y1="494.60" x2="176.00" y2="494.60" stroke="#222" stroke-width="0.8"/>
<line x1="185.90" y1="494.60" x2="188.10" y2="494.60" stroke="#222" stroke-width="0.8"/>
<line x1="198.20" y1="494.60" x2="200.40" y2="494.60" stroke="#222" stroke-width="0.8"/>
<line x1="209.90" y1="494.40" x2="213.70" y2="494.40" stroke="#111" stroke-width="0.95"/>
<line x1="211.80" y1="492.50" x2="211.80" y2="496.30" stroke="#111" stroke-width="0.95"/>
<line x1="222.70" y1="494.40" x2="226.50" y2="494.40" stroke="#111" stroke-width="0.95"/>
<line x1="224.60" y1="492.50" x2="224.60" y2="496.30" stroke="#111" stroke-width="0.95"/>
<line x1="235.00" y1="494.40" x2="238.80" y2="494.40" stroke="#111" stroke-width="0.95"/>
<line x1="236.90" y1="492.50" x2="236.90" y2="496.30" stroke="#111" stroke-width="0.95"/>
<text x="159.90" y="505.90" font-size="8.4" text-anchor="end" fill="#222">Fer-1</text>
<line x1="173.80" y1="503.20" x2="176.00" y2="503.20" stroke="#222" stroke-width="0.8"/>
<line x1="185.90" y1="503.20" x2="188.10" y2="503.20" stroke="#222" stroke-width="0.8"/>
<line x1="197.40" y1="503.00" x2="201.20" y2="503.00" stroke="#111" stroke-width="0.95"/>
<line x1="199.30" y1="501.10" x2="199.30" y2="504.90" stroke="#111" stroke-width="0.95"/>
<line x1="210.70" y1="503.20" x2="212.90" y2="503.20" stroke="#222" stroke-width="0.8"/>
<line x1="223.50" y1="503.20" x2="225.70" y2="503.20" stroke="#222" stroke-width="0.8"/>
<line x1="235.00" y1="503.00" x2="238.80" y2="503.00" stroke="#111" stroke-width="0.95"/>
<line x1="236.90" y1="501.10" x2="236.90" y2="504.90" stroke="#111" stroke-width="0.95"/>
<text x="338.90" y="255.80" font-size="9.9" font-weight="bold" text-anchor="middle" fill="#000">Hs746T</text>
<line x1="301.80" y1="265.20" x2="301.80" y2="342.80" stroke="#222" stroke-width="1.1"/>
<line x1="299.20" y1="342.30" x2="301.80" y2="342.30" stroke="#222" stroke-width="1.1"/>
<text x="296.00" y="344.96" font-size="7.4" text-anchor="end" fill="#333">0</text>
<line x1="299.20" y1="329.45" x2="301.80" y2="329.45" stroke="#222" stroke-width="1.1"/>
<text x="296.00" y="332.11" font-size="7.4" text-anchor="end" fill="#333">20</text>
<line x1="299.20" y1="316.60" x2="301.80" y2="316.60" stroke="#222" stroke-width="1.1"/>
<text x="296.00" y="319.26" font-size="7.4" text-anchor="end" fill="#333">40</text>
<line x1="299.20" y1="303.75" x2="301.80" y2="303.75" stroke="#222" stroke-width="1.1"/>
<text x="296.00" y="306.41" font-size="7.4" text-anchor="end" fill="#333">60</text>
<line x1="299.20" y1="290.90" x2="301.80" y2="290.90" stroke="#222" stroke-width="1.1"/>
<text x="296.00" y="293.56" font-size="7.4" text-anchor="end" fill="#333">80</text>
<line x1="299.20" y1="278.05" x2="301.80" y2="278.05" stroke="#222" stroke-width="1.1"/>
<text x="296.00" y="280.71" font-size="7.4" text-anchor="end" fill="#333">100</text>
<line x1="299.20" y1="265.20" x2="301.80" y2="265.20" stroke="#222" stroke-width="1.1"/>
<text x="296.00" y="267.86" font-size="7.4" text-anchor="end" fill="#333">120</text>
<line x1="301.30" y1="342.30" x2="377.50" y2="342.30" stroke="#222" stroke-width="1.1"/>
<line x1="308.10" y1="342.30" x2="308.10" y2="344.50" stroke="#222" stroke-width="0.935"/>
<line x1="320.94" y1="342.30" x2="320.94" y2="344.50" stroke="#222" stroke-width="0.935"/>
<line x1="333.78" y1="342.30" x2="333.78" y2="344.50" stroke="#222" stroke-width="0.935"/>
<line x1="346.62" y1="342.30" x2="346.62" y2="344.50" stroke="#222" stroke-width="0.935"/>
<line x1="359.46" y1="342.30" x2="359.46" y2="344.50" stroke="#222" stroke-width="0.935"/>
<line x1="372.30" y1="342.30" x2="372.30" y2="344.50" stroke="#222" stroke-width="0.935"/>
<text x="310.69" y="347.20" font-size="7.2" text-anchor="end" fill="#404040" transform="rotate(-90 310.69 347.20)">0</text>
<text x="323.53" y="347.20" font-size="7.2" text-anchor="end" fill="#404040" transform="rotate(-90 323.53 347.20)">0.01</text>
<text x="336.37" y="347.20" font-size="7.2" text-anchor="end" fill="#404040" transform="rotate(-90 336.37 347.20)">0.025</text>
<text x="349.21" y="347.20" font-size="7.2" text-anchor="end" fill="#404040" transform="rotate(-90 349.21 347.20)">0.05</text>
<text x="362.05" y="347.20" font-size="7.2" text-anchor="end" fill="#404040" transform="rotate(-90 362.05 347.20)">0.1</text>
<text x="374.89" y="347.20" font-size="7.2" text-anchor="end" fill="#404040" transform="rotate(-90 374.89 347.20)">0.25</text>
<polyline points="308.10,278.69 320.94,279.98 333.78,281.26 346.62,283.83 359.46,290.26 372.30,299.25" fill="none" stroke="#8c8c8c" stroke-width="1.1"/>
<line x1="308.10" y1="277.41" x2="308.10" y2="279.98" stroke="#333" stroke-width="0.8"/>
<line x1="306.50" y1="277.41" x2="309.70" y2="277.41" stroke="#333" stroke-width="0.8"/>
<line x1="306.50" y1="279.98" x2="309.70" y2="279.98" stroke="#333" stroke-width="0.8"/>
<line x1="320.94" y1="278.69" x2="320.94" y2="281.26" stroke="#333" stroke-width="0.8"/>
<line x1="319.34" y1="278.69" x2="322.54" y2="278.69" stroke="#333" stroke-width="0.8"/>
<line x1="319.34" y1="281.26" x2="322.54" y2="281.26" stroke="#333" stroke-width="0.8"/>
<line x1="333.78" y1="279.34" x2="333.78" y2="283.19" stroke="#333" stroke-width="0.8"/>
<line x1="332.18" y1="279.34" x2="335.38" y2="279.34" stroke="#333" stroke-width="0.8"/>
<line x1="332.18" y1="283.19" x2="335.38" y2="283.19" stroke="#333" stroke-width="0.8"/>
<line x1="346.62" y1="280.62" x2="346.62" y2="287.05" stroke="#333" stroke-width="0.8"/>
<line x1="345.02" y1="280.62" x2="348.22" y2="280.62" stroke="#333" stroke-width="0.8"/>
<line x1="345.02" y1="287.05" x2="348.22" y2="287.05" stroke="#333" stroke-width="0.8"/>
<line x1="359.46" y1="285.12" x2="359.46" y2="295.40" stroke="#333" stroke-width="0.8"/>
<line x1="357.86" y1="285.12" x2="361.06" y2="285.12" stroke="#333" stroke-width="0.8"/>
<line x1="357.86" y1="295.40" x2="361.06" y2="295.40" stroke="#333" stroke-width="0.8"/>
<line x1="372.30" y1="294.11" x2="372.30" y2="304.39" stroke="#333" stroke-width="0.8"/>
<line x1="370.70" y1="294.11" x2="373.90" y2="294.11" stroke="#333" stroke-width="0.8"/>
<line x1="370.70" y1="304.39" x2="373.90" y2="304.39" stroke="#333" stroke-width="0.8"/>
<circle cx="308.10" cy="278.69" r="2.3" fill="#8c8c8c" stroke="none" stroke-width="1"/>
<circle cx="320.94" cy="279.98" r="2.3" fill="#8c8c8c" stroke="none" stroke-width="1"/>
<circle cx="333.78" cy="281.26" r="2.3" fill="#8c8c8c" stroke="none" stroke-width="1"/>
<circle cx="346.62" cy="283.83" r="2.3" fill="#8c8c8c" stroke="none" stroke-width="1"/>
<circle cx="359.46" cy="290.26" r="2.3" fill="#8c8c8c" stroke="none" stroke-width="1"/>
<circle cx="372.30" cy="299.25" r="2.3" fill="#8c8c8c" stroke="none" stroke-width="1"/>
<polyline points="308.10,279.98 320.94,282.55 333.78,285.76 346.62,299.90 359.46,314.67 372.30,326.88" fill="none" stroke="#1a1a1a" stroke-width="1.0"/>
<line x1="308.10" y1="278.69" x2="308.10" y2="281.26" stroke="#333" stroke-width="0.8"/>
<line x1="306.50" y1="278.69" x2="309.70" y2="278.69" stroke="#333" stroke-width="0.8"/>
<line x1="306.50" y1="281.26" x2="309.70" y2="281.26" stroke="#333" stroke-width="0.8"/>
<line x1="320.94" y1="281.26" x2="320.94" y2="283.83" stroke="#333" stroke-width="0.8"/>
<line x1="319.34" y1="281.26" x2="322.54" y2="281.26" stroke="#333" stroke-width="0.8"/>
<line x1="319.34" y1="283.83" x2="322.54" y2="283.83" stroke="#333" stroke-width="0.8"/>
<line x1="333.78" y1="283.83" x2="333.78" y2="287.69" stroke="#333" stroke-width="0.8"/>
<line x1="332.18" y1="283.83" x2="335.38" y2="283.83" stroke="#333" stroke-width="0.8"/>
<line x1="332.18" y1="287.69" x2="335.38" y2="287.69" stroke="#333" stroke-width="0.8"/>
<line x1="346.62" y1="296.04" x2="346.62" y2="303.75" stroke="#333" stroke-width="0.8"/>
<line x1="345.02" y1="296.04" x2="348.22" y2="296.04" stroke="#333" stroke-width="0.8"/>
<line x1="345.02" y1="303.75" x2="348.22" y2="303.75" stroke="#333" stroke-width="0.8"/>
<line x1="359.46" y1="308.89" x2="359.46" y2="320.46" stroke="#333" stroke-width="0.8"/>
<line x1="357.86" y1="308.89" x2="361.06" y2="308.89" stroke="#333" stroke-width="0.8"/>
<line x1="357.86" y1="320.46" x2="361.06" y2="320.46" stroke="#333" stroke-width="0.8"/>
<line x1="372.30" y1="323.67" x2="372.30" y2="330.09" stroke="#333" stroke-width="0.8"/>
<line x1="370.70" y1="323.67" x2="373.90" y2="323.67" stroke="#333" stroke-width="0.8"/>
<line x1="370.70" y1="330.09" x2="373.90" y2="330.09" stroke="#333" stroke-width="0.8"/>
<rect x="305.80" y="277.68" width="4.60" height="4.60" fill="#1a1a1a" stroke="none" stroke-width="1"/>
<rect x="318.64" y="280.25" width="4.60" height="4.60" fill="#1a1a1a" stroke="none" stroke-width="1"/>
<rect x="331.48" y="283.46" width="4.60" height="4.60" fill="#1a1a1a" stroke="none" stroke-width="1"/>
<rect x="344.32" y="297.60" width="4.60" height="4.60" fill="#1a1a1a" stroke="none" stroke-width="1"/>
<rect x="357.16" y="312.37" width="4.60" height="4.60" fill="#1a1a1a" stroke="none" stroke-width="1"/>
<rect x="370.00" y="324.58" width="4.60" height="4.60" fill="#1a1a1a" stroke="none" stroke-width="1"/>
<polyline points="308.10,278.05 320.94,279.98 333.78,281.26 346.62,294.75 359.46,310.18 372.30,321.74" fill="none" stroke="#ffc000" stroke-width="0.9" stroke-dasharray="1,0.8"/>
<line x1="308.10" y1="276.76" x2="308.10" y2="279.34" stroke="#333" stroke-width="0.8"/>
<line x1="306.50" y1="276.76" x2="309.70" y2="276.76" stroke="#333" stroke-width="0.8"/>
<line x1="306.50" y1="279.34" x2="309.70" y2="279.34" stroke="#333" stroke-width="0.8"/>
<line x1="320.94" y1="278.69" x2="320.94" y2="281.26" stroke="#333" stroke-width="0.8"/>
<line x1="319.34" y1="278.69" x2="322.54" y2="278.69" stroke="#333" stroke-width="0.8"/>
<line x1="319.34" y1="281.26" x2="322.54" y2="281.26" stroke="#333" stroke-width="0.8"/>
<line x1="333.78" y1="279.98" x2="333.78" y2="282.55" stroke="#333" stroke-width="0.8"/>
<line x1="332.18" y1="279.98" x2="335.38" y2="279.98" stroke="#333" stroke-width="0.8"/>
<line x1="332.18" y1="282.55" x2="335.38" y2="282.55" stroke="#333" stroke-width="0.8"/>
<line x1="346.62" y1="292.19" x2="346.62" y2="297.32" stroke="#333" stroke-width="0.8"/>
<line x1="345.02" y1="292.19" x2="348.22" y2="292.19" stroke="#333" stroke-width="0.8"/>
<line x1="345.02" y1="297.32" x2="348.22" y2="297.32" stroke="#333" stroke-width="0.8"/>
<line x1="359.46" y1="306.32" x2="359.46" y2="314.03" stroke="#333" stroke-width="0.8"/>
<line x1="357.86" y1="306.32" x2="361.06" y2="306.32" stroke="#333" stroke-width="0.8"/>
<line x1="357.86" y1="314.03" x2="361.06" y2="314.03" stroke="#333" stroke-width="0.8"/>
<line x1="372.30" y1="318.53" x2="372.30" y2="324.95" stroke="#333" stroke-width="0.8"/>
<line x1="370.70" y1="318.53" x2="373.90" y2="318.53" stroke="#333" stroke-width="0.8"/>
<line x1="370.70" y1="324.95" x2="373.90" y2="324.95" stroke="#333" stroke-width="0.8"/>
<circle cx="308.10" cy="278.05" r="2.5" fill="#fff" stroke="#ffc000" stroke-width="0.9"/>
<circle cx="320.94" cy="279.98" r="2.5" fill="#fff" stroke="#ffc000" stroke-width="0.9"/>
<circle cx="333.78" cy="281.26" r="2.5" fill="#fff" stroke="#ffc000" stroke-width="0.9"/>
<circle cx="346.62" cy="294.75" r="2.5" fill="#fff" stroke="#ffc000" stroke-width="0.9"/>
<circle cx="359.46" cy="310.18" r="2.5" fill="#fff" stroke="#ffc000" stroke-width="0.9"/>
<circle cx="372.30" cy="321.74" r="2.5" fill="#fff" stroke="#ffc000" stroke-width="0.9"/>
<polyline points="308.10,278.69 320.94,282.55 333.78,285.76 346.62,320.46 359.46,329.45 372.30,332.02" fill="none" stroke="#5b5bf5" stroke-width="0.9" stroke-dasharray="1,0.8"/>
<line x1="308.10" y1="277.41" x2="308.10" y2="279.98" stroke="#333" stroke-width="0.8"/>
<line x1="306.50" y1="277.41" x2="309.70" y2="277.41" stroke="#333" stroke-width="0.8"/>
<line x1="306.50" y1="279.98" x2="309.70" y2="279.98" stroke="#333" stroke-width="0.8"/>
<line x1="320.94" y1="281.26" x2="320.94" y2="283.83" stroke="#333" stroke-width="0.8"/>
<line x1="319.34" y1="281.26" x2="322.54" y2="281.26" stroke="#333" stroke-width="0.8"/>
<line x1="319.34" y1="283.83" x2="322.54" y2="283.83" stroke="#333" stroke-width="0.8"/>
<line x1="333.78" y1="283.83" x2="333.78" y2="287.69" stroke="#333" stroke-width="0.8"/>
<line x1="332.18" y1="283.83" x2="335.38" y2="283.83" stroke="#333" stroke-width="0.8"/>
<line x1="332.18" y1="287.69" x2="335.38" y2="287.69" stroke="#333" stroke-width="0.8"/>
<line x1="346.62" y1="316.60" x2="346.62" y2="324.31" stroke="#333" stroke-width="0.8"/>
<line x1="345.02" y1="316.60" x2="348.22" y2="316.60" stroke="#333" stroke-width="0.8"/>
<line x1="345.02" y1="324.31" x2="348.22" y2="324.31" stroke="#333" stroke-width="0.8"/>
<line x1="359.46" y1="326.24" x2="359.46" y2="332.66" stroke="#333" stroke-width="0.8"/>
<line x1="357.86" y1="326.24" x2="361.06" y2="326.24" stroke="#333" stroke-width="0.8"/>
<line x1="357.86" y1="332.66" x2="361.06" y2="332.66" stroke="#333" stroke-width="0.8"/>
<line x1="372.30" y1="329.45" x2="372.30" y2="334.59" stroke="#333" stroke-width="0.8"/>
<line x1="370.70" y1="329.45" x2="373.90" y2="329.45" stroke="#333" stroke-width="0.8"/>
<line x1="370.70" y1="334.59" x2="373.90" y2="334.59" stroke="#333" stroke-width="0.8"/>
<circle cx="308.10" cy="278.69" r="2.5" fill="#fff" stroke="#5b5bf5" stroke-width="0.9"/>
<circle cx="320.94" cy="282.55" r="2.5" fill="#fff" stroke="#5b5bf5" stroke-width="0.9"/>
<circle cx="333.78" cy="285.76" r="2.5" fill="#fff" stroke="#5b5bf5" stroke-width="0.9"/>
<circle cx="346.62" cy="320.46" r="2.5" fill="#fff" stroke="#5b5bf5" stroke-width="0.9"/>
<circle cx="359.46" cy="329.45" r="2.5" fill="#fff" stroke="#5b5bf5" stroke-width="0.9"/>
<circle cx="372.30" cy="332.02" r="2.5" fill="#fff" stroke="#5b5bf5" stroke-width="0.9"/>
<text x="340.10" y="378.00" font-size="8.75" text-anchor="middle" fill="#222">RSL3 (µM)</text>
<text x="282.40" y="303.50" font-size="8.8" text-anchor="middle" fill="#222" transform="rotate(-90 282.40 303.50)">Cell viability (%)</text>
<line x1="379.60" y1="282.00" x2="404.80" y2="282.00" stroke="#8c8c8c" stroke-width="1.3"/>
<circle cx="392.40" cy="282.00" r="1.5" fill="#8c8c8c" stroke="none" stroke-width="1"/>
<text x="412.00" y="284.00" font-size="6.9" fill="#222">RSL3</text>
<line x1="379.60" y1="293.00" x2="404.80" y2="293.00" stroke="#1a1a1a" stroke-width="1.0"/>
<circle cx="392.40" cy="293.00" r="1.5" fill="#1a1a1a" stroke="none" stroke-width="1"/>
<text x="412.00" y="295.30" font-size="6.9" fill="#222">RSL3&#160;+&#160;Darapladib</text>
<line x1="379.60" y1="304.40" x2="404.80" y2="304.40" stroke="#ffc000" stroke-width="0.9" stroke-dasharray="1,0.8"/>
<circle cx="392.40" cy="304.40" r="1.9" fill="#fff" stroke="#ffc000" stroke-width="1.0"/>
<text x="412.00" y="306.80" font-size="6.9" fill="#222">RSL3</text>
<line x1="379.60" y1="315.50" x2="404.80" y2="315.50" stroke="#5b5bf5" stroke-width="0.9" stroke-dasharray="1,0.8"/>
<circle cx="392.40" cy="315.50" r="1.9" fill="#fff" stroke="#5b5bf5" stroke-width="1.0"/>
<text x="412.00" y="317.80" font-size="6.9" fill="#222">RSL3&#160;+&#160;Darapladib</text>
<polyline points="472.00,278.40 476.30,278.40 476.30,292.60 472.00,292.60" fill="none" stroke="#111" stroke-width="0.9"/>
<polyline points="472.00,302.80 476.30,302.80 476.30,317.10 472.00,317.10" fill="none" stroke="#111" stroke-width="0.9"/>
<text x="479.00" y="287.50" font-size="6.8" fill="#222">High density</text>
<text x="480.40" y="312.70" font-size="6.8" fill="#222">Low density</text>
<text x="338.90" y="392.10" font-size="9.9" font-weight="bold" text-anchor="middle" fill="#000">SNU-484</text>
<line x1="302.40" y1="397.10" x2="302.40" y2="474.40" stroke="#222" stroke-width="1.1"/>
<line x1="299.80" y1="473.90" x2="302.40" y2="473.90" stroke="#222" stroke-width="1.1"/>
<text x="296.60" y="476.56" font-size="7.4" text-anchor="end" fill="#333">0</text>
<line x1="299.80" y1="461.10" x2="302.40" y2="461.10" stroke="#222" stroke-width="1.1"/>
<text x="296.60" y="463.76" font-size="7.4" text-anchor="end" fill="#333">20</text>
<line x1="299.80" y1="448.30" x2="302.40" y2="448.30" stroke="#222" stroke-width="1.1"/>
<text x="296.60" y="450.96" font-size="7.4" text-anchor="end" fill="#333">40</text>
<line x1="299.80" y1="435.50" x2="302.40" y2="435.50" stroke="#222" stroke-width="1.1"/>
<text x="296.60" y="438.16" font-size="7.4" text-anchor="end" fill="#333">60</text>
<line x1="299.80" y1="422.70" x2="302.40" y2="422.70" stroke="#222" stroke-width="1.1"/>
<text x="296.60" y="425.36" font-size="7.4" text-anchor="end" fill="#333">80</text>
<line x1="299.80" y1="409.90" x2="302.40" y2="409.90" stroke="#222" stroke-width="1.1"/>
<text x="296.60" y="412.56" font-size="7.4" text-anchor="end" fill="#333">100</text>
<line x1="299.80" y1="397.10" x2="302.40" y2="397.10" stroke="#222" stroke-width="1.1"/>
<text x="296.60" y="399.76" font-size="7.4" text-anchor="end" fill="#333">120</text>
<line x1="301.90" y1="473.90" x2="377.50" y2="473.90" stroke="#222" stroke-width="1.1"/>
<line x1="309.00" y1="473.90" x2="309.00" y2="476.10" stroke="#222" stroke-width="0.935"/>
<line x1="321.46" y1="473.90" x2="321.46" y2="476.10" stroke="#222" stroke-width="0.935"/>
<line x1="333.92" y1="473.90" x2="333.92" y2="476.10" stroke="#222" stroke-width="0.935"/>
<line x1="346.38" y1="473.90" x2="346.38" y2="476.10" stroke="#222" stroke-width="0.935"/>
<line x1="358.84" y1="473.90" x2="358.84" y2="476.10" stroke="#222" stroke-width="0.935"/>
<line x1="371.30" y1="473.90" x2="371.30" y2="476.10" stroke="#222" stroke-width="0.935"/>
<text x="311.59" y="478.70" font-size="7.2" text-anchor="end" fill="#404040" transform="rotate(-90 311.59 478.70)">0</text>
<text x="324.05" y="478.70" font-size="7.2" text-anchor="end" fill="#404040" transform="rotate(-90 324.05 478.70)">0.01</text>
<text x="336.51" y="478.70" font-size="7.2" text-anchor="end" fill="#404040" transform="rotate(-90 336.51 478.70)">0.025</text>
<text x="348.97" y="478.70" font-size="7.2" text-anchor="end" fill="#404040" transform="rotate(-90 348.97 478.70)">0.05</text>
<text x="361.43" y="478.70" font-size="7.2" text-anchor="end" fill="#404040" transform="rotate(-90 361.43 478.70)">0.1</text>
<text x="373.89" y="478.70" font-size="7.2" text-anchor="end" fill="#404040" transform="rotate(-90 373.89 478.70)">0.25</text>
<polyline points="309.00,410.54 321.46,411.18 333.92,413.10 346.38,413.74 358.84,415.66 371.30,423.34" fill="none" stroke="#8c8c8c" stroke-width="1.3"/>
<line x1="309.00" y1="409.26" x2="309.00" y2="411.82" stroke="#333" stroke-width="0.8"/>
<line x1="307.40" y1="409.26" x2="310.60" y2="409.26" stroke="#333" stroke-width="0.8"/>
<line x1="307.40" y1="411.82" x2="310.60" y2="411.82" stroke="#333" stroke-width="0.8"/>
<line x1="321.46" y1="409.90" x2="321.46" y2="412.46" stroke="#333" stroke-width="0.8"/>
<line x1="319.86" y1="409.90" x2="323.06" y2="409.90" stroke="#333" stroke-width="0.8"/>
<line x1="319.86" y1="412.46" x2="323.06" y2="412.46" stroke="#333" stroke-width="0.8"/>
<line x1="333.92" y1="411.82" x2="333.92" y2="414.38" stroke="#333" stroke-width="0.8"/>
<line x1="332.32" y1="411.82" x2="335.52" y2="411.82" stroke="#333" stroke-width="0.8"/>
<line x1="332.32" y1="414.38" x2="335.52" y2="414.38" stroke="#333" stroke-width="0.8"/>
<line x1="346.38" y1="412.46" x2="346.38" y2="415.02" stroke="#333" stroke-width="0.8"/>
<line x1="344.78" y1="412.46" x2="347.98" y2="412.46" stroke="#333" stroke-width="0.8"/>
<line x1="344.78" y1="415.02" x2="347.98" y2="415.02" stroke="#333" stroke-width="0.8"/>
<line x1="358.84" y1="411.82" x2="358.84" y2="419.50" stroke="#333" stroke-width="0.8"/>
<line x1="357.24" y1="411.82" x2="360.44" y2="411.82" stroke="#333" stroke-width="0.8"/>
<line x1="357.24" y1="419.50" x2="360.44" y2="419.50" stroke="#333" stroke-width="0.8"/>
<line x1="371.30" y1="420.14" x2="371.30" y2="426.54" stroke="#333" stroke-width="0.8"/>
<line x1="369.70" y1="420.14" x2="372.90" y2="420.14" stroke="#333" stroke-width="0.8"/>
<line x1="369.70" y1="426.54" x2="372.90" y2="426.54" stroke="#333" stroke-width="0.8"/>
<circle cx="309.00" cy="410.54" r="2.3" fill="#8c8c8c" stroke="none" stroke-width="1"/>
<circle cx="321.46" cy="411.18" r="2.3" fill="#8c8c8c" stroke="none" stroke-width="1"/>
<circle cx="333.92" cy="413.10" r="2.3" fill="#8c8c8c" stroke="none" stroke-width="1"/>
<circle cx="346.38" cy="413.74" r="2.3" fill="#8c8c8c" stroke="none" stroke-width="1"/>
<circle cx="358.84" cy="415.66" r="2.3" fill="#8c8c8c" stroke="none" stroke-width="1"/>
<circle cx="371.30" cy="423.34" r="2.3" fill="#8c8c8c" stroke="none" stroke-width="1"/>
<polyline points="309.00,411.18 321.46,413.10 333.92,414.38 346.38,427.82 358.84,443.18 371.30,447.02" fill="none" stroke="#1a1a1a" stroke-width="1.0"/>
<line x1="309.00" y1="409.90" x2="309.00" y2="412.46" stroke="#333" stroke-width="0.8"/>
<line x1="307.40" y1="409.90" x2="310.60" y2="409.90" stroke="#333" stroke-width="0.8"/>
<line x1="307.40" y1="412.46" x2="310.60" y2="412.46" stroke="#333" stroke-width="0.8"/>
<line x1="321.46" y1="411.82" x2="321.46" y2="414.38" stroke="#333" stroke-width="0.8"/>
<line x1="319.86" y1="411.82" x2="323.06" y2="411.82" stroke="#333" stroke-width="0.8"/>
<line x1="319.86" y1="414.38" x2="323.06" y2="414.38" stroke="#333" stroke-width="0.8"/>
<line x1="333.92" y1="413.10" x2="333.92" y2="415.66" stroke="#333" stroke-width="0.8"/>
<line x1="332.32" y1="413.10" x2="335.52" y2="413.10" stroke="#333" stroke-width="0.8"/>
<line x1="332.32" y1="415.66" x2="335.52" y2="415.66" stroke="#333" stroke-width="0.8"/>
<line x1="346.38" y1="423.98" x2="346.38" y2="431.66" stroke="#333" stroke-width="0.8"/>
<line x1="344.78" y1="423.98" x2="347.98" y2="423.98" stroke="#333" stroke-width="0.8"/>
<line x1="344.78" y1="431.66" x2="347.98" y2="431.66" stroke="#333" stroke-width="0.8"/>
<line x1="358.84" y1="439.98" x2="358.84" y2="446.38" stroke="#333" stroke-width="0.8"/>
<line x1="357.24" y1="439.98" x2="360.44" y2="439.98" stroke="#333" stroke-width="0.8"/>
<line x1="357.24" y1="446.38" x2="360.44" y2="446.38" stroke="#333" stroke-width="0.8"/>
<line x1="371.30" y1="443.82" x2="371.30" y2="450.22" stroke="#333" stroke-width="0.8"/>
<line x1="369.70" y1="443.82" x2="372.90" y2="443.82" stroke="#333" stroke-width="0.8"/>
<line x1="369.70" y1="450.22" x2="372.90" y2="450.22" stroke="#333" stroke-width="0.8"/>
<rect x="306.70" y="408.88" width="4.60" height="4.60" fill="#1a1a1a" stroke="none" stroke-width="1"/>
<rect x="319.16" y="410.80" width="4.60" height="4.60" fill="#1a1a1a" stroke="none" stroke-width="1"/>
<rect x="331.62" y="412.08" width="4.60" height="4.60" fill="#1a1a1a" stroke="none" stroke-width="1"/>
<rect x="344.08" y="425.52" width="4.60" height="4.60" fill="#1a1a1a" stroke="none" stroke-width="1"/>
<rect x="356.54" y="440.88" width="4.60" height="4.60" fill="#1a1a1a" stroke="none" stroke-width="1"/>
<rect x="369.00" y="444.72" width="4.60" height="4.60" fill="#1a1a1a" stroke="none" stroke-width="1"/>
<polyline points="309.00,409.90 321.46,410.54 333.92,413.10 346.38,424.62 358.84,439.98 371.30,448.30" fill="none" stroke="#ffc000" stroke-width="0.9" stroke-dasharray="1,0.8"/>
<line x1="309.00" y1="408.62" x2="309.00" y2="411.18" stroke="#333" stroke-width="0.8"/>
<line x1="307.40" y1="408.62" x2="310.60" y2="408.62" stroke="#333" stroke-width="0.8"/>
<line x1="307.40" y1="411.18" x2="310.60" y2="411.18" stroke="#333" stroke-width="0.8"/>
<line x1="321.46" y1="409.26" x2="321.46" y2="411.82" stroke="#333" stroke-width="0.8"/>
<line x1="319.86" y1="409.26" x2="323.06" y2="409.26" stroke="#333" stroke-width="0.8"/>
<line x1="319.86" y1="411.82" x2="323.06" y2="411.82" stroke="#333" stroke-width="0.8"/>
<line x1="333.92" y1="411.82" x2="333.92" y2="414.38" stroke="#333" stroke-width="0.8"/>
<line x1="332.32" y1="411.82" x2="335.52" y2="411.82" stroke="#333" stroke-width="0.8"/>
<line x1="332.32" y1="414.38" x2="335.52" y2="414.38" stroke="#333" stroke-width="0.8"/>
<line x1="346.38" y1="422.06" x2="346.38" y2="427.18" stroke="#333" stroke-width="0.8"/>
<line x1="344.78" y1="422.06" x2="347.98" y2="422.06" stroke="#333" stroke-width="0.8"/>
<line x1="344.78" y1="427.18" x2="347.98" y2="427.18" stroke="#333" stroke-width="0.8"/>
<line x1="358.84" y1="436.78" x2="358.84" y2="443.18" stroke="#333" stroke-width="0.8"/>
<line x1="357.24" y1="436.78" x2="360.44" y2="436.78" stroke="#333" stroke-width="0.8"/>
<line x1="357.24" y1="443.18" x2="360.44" y2="443.18" stroke="#333" stroke-width="0.8"/>
<line x1="371.30" y1="446.38" x2="371.30" y2="450.22" stroke="#333" stroke-width="0.8"/>
<line x1="369.70" y1="446.38" x2="372.90" y2="446.38" stroke="#333" stroke-width="0.8"/>
<line x1="369.70" y1="450.22" x2="372.90" y2="450.22" stroke="#333" stroke-width="0.8"/>
<circle cx="309.00" cy="409.90" r="2.5" fill="#fff" stroke="#ffc000" stroke-width="0.9"/>
<circle cx="321.46" cy="410.54" r="2.5" fill="#fff" stroke="#ffc000" stroke-width="0.9"/>
<circle cx="333.92" cy="413.10" r="2.5" fill="#fff" stroke="#ffc000" stroke-width="0.9"/>
<circle cx="346.38" cy="424.62" r="2.5" fill="#fff" stroke="#ffc000" stroke-width="0.9"/>
<circle cx="358.84" cy="439.98" r="2.5" fill="#fff" stroke="#ffc000" stroke-width="0.9"/>
<circle cx="371.30" cy="448.30" r="2.5" fill="#fff" stroke="#ffc000" stroke-width="0.9"/>
<polyline points="309.00,411.82 321.46,413.10 333.92,418.22 346.38,448.30 358.84,455.34 371.30,464.94" fill="none" stroke="#5b5bf5" stroke-width="0.9" stroke-dasharray="1,0.8"/>
<line x1="309.00" y1="410.54" x2="309.00" y2="413.10" stroke="#333" stroke-width="0.8"/>
<line x1="307.40" y1="410.54" x2="310.60" y2="410.54" stroke="#333" stroke-width="0.8"/>
<line x1="307.40" y1="413.10" x2="310.60" y2="413.10" stroke="#333" stroke-width="0.8"/>
<line x1="321.46" y1="411.82" x2="321.46" y2="414.38" stroke="#333" stroke-width="0.8"/>
<line x1="319.86" y1="411.82" x2="323.06" y2="411.82" stroke="#333" stroke-width="0.8"/>
<line x1="319.86" y1="414.38" x2="323.06" y2="414.38" stroke="#333" stroke-width="0.8"/>
<line x1="333.92" y1="416.94" x2="333.92" y2="419.50" stroke="#333" stroke-width="0.8"/>
<line x1="332.32" y1="416.94" x2="335.52" y2="416.94" stroke="#333" stroke-width="0.8"/>
<line x1="332.32" y1="419.50" x2="335.52" y2="419.50" stroke="#333" stroke-width="0.8"/>
<line x1="346.38" y1="445.10" x2="346.38" y2="451.50" stroke="#333" stroke-width="0.8"/>
<line x1="344.78" y1="445.10" x2="347.98" y2="445.10" stroke="#333" stroke-width="0.8"/>
<line x1="344.78" y1="451.50" x2="347.98" y2="451.50" stroke="#333" stroke-width="0.8"/>
<line x1="358.84" y1="452.78" x2="358.84" y2="457.90" stroke="#333" stroke-width="0.8"/>
<line x1="357.24" y1="452.78" x2="360.44" y2="452.78" stroke="#333" stroke-width="0.8"/>
<line x1="357.24" y1="457.90" x2="360.44" y2="457.90" stroke="#333" stroke-width="0.8"/>
<line x1="371.30" y1="461.74" x2="371.30" y2="468.14" stroke="#333" stroke-width="0.8"/>
<line x1="369.70" y1="461.74" x2="372.90" y2="461.74" stroke="#333" stroke-width="0.8"/>
<line x1="369.70" y1="468.14" x2="372.90" y2="468.14" stroke="#333" stroke-width="0.8"/>
<circle cx="309.00" cy="411.82" r="2.5" fill="#fff" stroke="#5b5bf5" stroke-width="0.9"/>
<circle cx="321.46" cy="413.10" r="2.5" fill="#fff" stroke="#5b5bf5" stroke-width="0.9"/>
<circle cx="333.92" cy="418.22" r="2.5" fill="#fff" stroke="#5b5bf5" stroke-width="0.9"/>
<circle cx="346.38" cy="448.30" r="2.5" fill="#fff" stroke="#5b5bf5" stroke-width="0.9"/>
<circle cx="358.84" cy="455.34" r="2.5" fill="#fff" stroke="#5b5bf5" stroke-width="0.9"/>
<circle cx="371.30" cy="464.94" r="2.5" fill="#fff" stroke="#5b5bf5" stroke-width="0.9"/>
<text x="340.10" y="506.30" font-size="8.75" text-anchor="middle" fill="#222">RSL3 (µM)</text>
<text x="282.90" y="435.50" font-size="8.8" text-anchor="middle" fill="#222" transform="rotate(-90 282.90 435.50)">Cell viability (%)</text>
<line x1="379.60" y1="415.80" x2="404.80" y2="415.80" stroke="#8c8c8c" stroke-width="1.3"/>
<circle cx="392.40" cy="415.80" r="1.5" fill="#8c8c8c" stroke="none" stroke-width="1"/>
<text x="412.00" y="416.20" font-size="6.9" fill="#222">RSL3</text>
<line x1="379.60" y1="426.70" x2="404.80" y2="426.70" stroke="#1a1a1a" stroke-width="1.0"/>
<circle cx="392.40" cy="426.70" r="1.5" fill="#1a1a1a" stroke="none" stroke-width="1"/>
<text x="412.00" y="427.50" font-size="6.9" fill="#222">RSL3&#160;+&#160;Darapladib</text>
<line x1="379.60" y1="437.20" x2="404.80" y2="437.20" stroke="#ffc000" stroke-width="0.9" stroke-dasharray="1,0.8"/>
<circle cx="392.40" cy="437.20" r="1.9" fill="#fff" stroke="#ffc000" stroke-width="1.0"/>
<text x="412.00" y="438.80" font-size="6.9" fill="#222">RSL3</text>
<line x1="379.60" y1="447.30" x2="404.80" y2="447.30" stroke="#5b5bf5" stroke-width="0.9" stroke-dasharray="1,0.8"/>
<circle cx="392.40" cy="447.30" r="1.9" fill="#fff" stroke="#5b5bf5" stroke-width="1.0"/>
<text x="412.00" y="449.30" font-size="6.9" fill="#222">RSL3&#160;+&#160;Darapladib</text>
<polyline points="472.00,411.40 476.30,411.40 476.30,426.30 472.00,426.30" fill="none" stroke="#111" stroke-width="0.9"/>
<polyline points="472.00,434.40 476.30,434.40 476.30,448.60 472.00,448.60" fill="none" stroke="#111" stroke-width="0.9"/>
<text x="479.00" y="420.40" font-size="6.8" fill="#222">High density</text>
<text x="480.40" y="443.40" font-size="6.8" fill="#222">Low density</text>
<text x="604.30" y="255.80" font-size="9.9" font-weight="bold" text-anchor="middle" fill="#000">Hs746T</text>
<line x1="563.70" y1="276.20" x2="563.70" y2="351.30" stroke="#7a7a7a" stroke-width="1.1"/>
<line x1="561.10" y1="350.80" x2="563.70" y2="350.80" stroke="#7a7a7a" stroke-width="1.1"/>
<text x="557.90" y="353.46" font-size="7.4" text-anchor="end" fill="#333">0</text>
<line x1="561.10" y1="338.37" x2="563.70" y2="338.37" stroke="#7a7a7a" stroke-width="1.1"/>
<text x="557.90" y="341.03" font-size="7.4" text-anchor="end" fill="#333">20</text>
<line x1="561.10" y1="325.93" x2="563.70" y2="325.93" stroke="#7a7a7a" stroke-width="1.1"/>
<text x="557.90" y="328.60" font-size="7.4" text-anchor="end" fill="#333">40</text>
<line x1="561.10" y1="313.50" x2="563.70" y2="313.50" stroke="#7a7a7a" stroke-width="1.1"/>
<text x="557.90" y="316.16" font-size="7.4" text-anchor="end" fill="#333">60</text>
<line x1="561.10" y1="301.07" x2="563.70" y2="301.07" stroke="#7a7a7a" stroke-width="1.1"/>
<text x="557.90" y="303.73" font-size="7.4" text-anchor="end" fill="#333">80</text>
<line x1="561.10" y1="288.63" x2="563.70" y2="288.63" stroke="#7a7a7a" stroke-width="1.1"/>
<text x="557.90" y="291.30" font-size="7.4" text-anchor="end" fill="#333">100</text>
<line x1="561.10" y1="276.20" x2="563.70" y2="276.20" stroke="#7a7a7a" stroke-width="1.1"/>
<text x="557.90" y="278.86" font-size="7.4" text-anchor="end" fill="#333">120</text>
<line x1="563.20" y1="350.80" x2="642.50" y2="350.80" stroke="#222" stroke-width="1.1"/>
<line x1="570.50" y1="350.80" x2="570.50" y2="353.00" stroke="#222" stroke-width="0.935"/>
<line x1="583.50" y1="350.80" x2="583.50" y2="353.00" stroke="#222" stroke-width="0.935"/>
<line x1="596.50" y1="350.80" x2="596.50" y2="353.00" stroke="#222" stroke-width="0.935"/>
<line x1="609.50" y1="350.80" x2="609.50" y2="353.00" stroke="#222" stroke-width="0.935"/>
<line x1="622.50" y1="350.80" x2="622.50" y2="353.00" stroke="#222" stroke-width="0.935"/>
<line x1="635.50" y1="350.80" x2="635.50" y2="353.00" stroke="#222" stroke-width="0.935"/>
<text x="573.09" y="355.70" font-size="7.2" text-anchor="end" fill="#404040" transform="rotate(-90 573.09 355.70)">0</text>
<text x="586.09" y="355.70" font-size="7.2" text-anchor="end" fill="#404040" transform="rotate(-90 586.09 355.70)">0.1</text>
<text x="599.09" y="355.70" font-size="7.2" text-anchor="end" fill="#404040" transform="rotate(-90 599.09 355.70)">0.25</text>
<text x="612.09" y="355.70" font-size="7.2" text-anchor="end" fill="#404040" transform="rotate(-90 612.09 355.70)">0.5</text>
<text x="625.09" y="355.70" font-size="7.2" text-anchor="end" fill="#404040" transform="rotate(-90 625.09 355.70)">0.75</text>
<text x="638.09" y="355.70" font-size="7.2" text-anchor="end" fill="#404040" transform="rotate(-90 638.09 355.70)">1</text>
<polyline points="570.50,288.63 583.50,290.50 596.50,291.74 609.50,294.23 622.50,297.34 635.50,301.69" fill="none" stroke="#8c8c8c" stroke-width="1.0"/>
<line x1="583.50" y1="289.88" x2="583.50" y2="291.12" stroke="#333" stroke-width="0.8"/>
<line x1="581.90" y1="289.88" x2="585.10" y2="289.88" stroke="#333" stroke-width="0.8"/>
<line x1="581.90" y1="291.12" x2="585.10" y2="291.12" stroke="#333" stroke-width="0.8"/>
<line x1="596.50" y1="289.88" x2="596.50" y2="293.61" stroke="#333" stroke-width="0.8"/>
<line x1="594.90" y1="289.88" x2="598.10" y2="289.88" stroke="#333" stroke-width="0.8"/>
<line x1="594.90" y1="293.61" x2="598.10" y2="293.61" stroke="#333" stroke-width="0.8"/>
<line x1="609.50" y1="292.99" x2="609.50" y2="295.47" stroke="#333" stroke-width="0.8"/>
<line x1="607.90" y1="292.99" x2="611.10" y2="292.99" stroke="#333" stroke-width="0.8"/>
<line x1="607.90" y1="295.47" x2="611.10" y2="295.47" stroke="#333" stroke-width="0.8"/>
<line x1="622.50" y1="294.23" x2="622.50" y2="300.45" stroke="#333" stroke-width="0.8"/>
<line x1="620.90" y1="294.23" x2="624.10" y2="294.23" stroke="#333" stroke-width="0.8"/>
<line x1="620.90" y1="300.45" x2="624.10" y2="300.45" stroke="#333" stroke-width="0.8"/>
<line x1="635.50" y1="301.07" x2="635.50" y2="302.31" stroke="#333" stroke-width="0.8"/>
<line x1="633.90" y1="301.07" x2="637.10" y2="301.07" stroke="#333" stroke-width="0.8"/>
<line x1="633.90" y1="302.31" x2="637.10" y2="302.31" stroke="#333" stroke-width="0.8"/>
<rect x="567.80" y="285.93" width="5.40" height="5.40" fill="#8c8c8c" stroke="none" stroke-width="1"/>
<rect x="580.80" y="287.80" width="5.40" height="5.40" fill="#8c8c8c" stroke="none" stroke-width="1"/>
<rect x="593.80" y="289.04" width="5.40" height="5.40" fill="#8c8c8c" stroke="none" stroke-width="1"/>
<rect x="606.80" y="291.53" width="5.40" height="5.40" fill="#8c8c8c" stroke="none" stroke-width="1"/>
<rect x="619.80" y="294.64" width="5.40" height="5.40" fill="#8c8c8c" stroke="none" stroke-width="1"/>
<rect x="632.80" y="298.99" width="5.40" height="5.40" fill="#8c8c8c" stroke="none" stroke-width="1"/>
<polyline points="570.50,288.63 583.50,306.04 596.50,317.85 609.50,325.31 622.50,332.15 635.50,336.50" fill="none" stroke="#1a1a1a" stroke-width="1.0"/>
<line x1="583.50" y1="304.80" x2="583.50" y2="307.28" stroke="#333" stroke-width="0.8"/>
<line x1="581.90" y1="304.80" x2="585.10" y2="304.80" stroke="#333" stroke-width="0.8"/>
<line x1="581.90" y1="307.28" x2="585.10" y2="307.28" stroke="#333" stroke-width="0.8"/>
<line x1="596.50" y1="316.61" x2="596.50" y2="319.10" stroke="#333" stroke-width="0.8"/>
<line x1="594.90" y1="316.61" x2="598.10" y2="316.61" stroke="#333" stroke-width="0.8"/>
<line x1="594.90" y1="319.10" x2="598.10" y2="319.10" stroke="#333" stroke-width="0.8"/>
<line x1="609.50" y1="324.07" x2="609.50" y2="326.56" stroke="#333" stroke-width="0.8"/>
<line x1="607.90" y1="324.07" x2="611.10" y2="324.07" stroke="#333" stroke-width="0.8"/>
<line x1="607.90" y1="326.56" x2="611.10" y2="326.56" stroke="#333" stroke-width="0.8"/>
<line x1="622.50" y1="330.91" x2="622.50" y2="333.39" stroke="#333" stroke-width="0.8"/>
<line x1="620.90" y1="330.91" x2="624.10" y2="330.91" stroke="#333" stroke-width="0.8"/>
<line x1="620.90" y1="333.39" x2="624.10" y2="333.39" stroke="#333" stroke-width="0.8"/>
<line x1="635.50" y1="335.26" x2="635.50" y2="337.75" stroke="#333" stroke-width="0.8"/>
<line x1="633.90" y1="335.26" x2="637.10" y2="335.26" stroke="#333" stroke-width="0.8"/>
<line x1="633.90" y1="337.75" x2="637.10" y2="337.75" stroke="#333" stroke-width="0.8"/>
<circle cx="570.50" cy="288.63" r="2.7" fill="#1a1a1a" stroke="none" stroke-width="1"/>
<circle cx="583.50" cy="306.04" r="2.7" fill="#1a1a1a" stroke="none" stroke-width="1"/>
<circle cx="596.50" cy="317.85" r="2.7" fill="#1a1a1a" stroke="none" stroke-width="1"/>
<circle cx="609.50" cy="325.31" r="2.7" fill="#1a1a1a" stroke="none" stroke-width="1"/>
<circle cx="622.50" cy="332.15" r="2.7" fill="#1a1a1a" stroke="none" stroke-width="1"/>
<circle cx="635.50" cy="336.50" r="2.7" fill="#1a1a1a" stroke="none" stroke-width="1"/>
<polyline points="570.50,288.63 583.50,304.18 596.50,316.61 609.50,325.93 622.50,327.18 635.50,335.26" fill="none" stroke="#ffc000" stroke-width="1.0"/>
<line x1="583.50" y1="302.93" x2="583.50" y2="305.42" stroke="#333" stroke-width="0.8"/>
<line x1="581.90" y1="302.93" x2="585.10" y2="302.93" stroke="#333" stroke-width="0.8"/>
<line x1="581.90" y1="305.42" x2="585.10" y2="305.42" stroke="#333" stroke-width="0.8"/>
<line x1="596.50" y1="315.37" x2="596.50" y2="317.85" stroke="#333" stroke-width="0.8"/>
<line x1="594.90" y1="315.37" x2="598.10" y2="315.37" stroke="#333" stroke-width="0.8"/>
<line x1="594.90" y1="317.85" x2="598.10" y2="317.85" stroke="#333" stroke-width="0.8"/>
<line x1="609.50" y1="324.69" x2="609.50" y2="327.18" stroke="#333" stroke-width="0.8"/>
<line x1="607.90" y1="324.69" x2="611.10" y2="324.69" stroke="#333" stroke-width="0.8"/>
<line x1="607.90" y1="327.18" x2="611.10" y2="327.18" stroke="#333" stroke-width="0.8"/>
<line x1="622.50" y1="325.93" x2="622.50" y2="328.42" stroke="#333" stroke-width="0.8"/>
<line x1="620.90" y1="325.93" x2="624.10" y2="325.93" stroke="#333" stroke-width="0.8"/>
<line x1="620.90" y1="328.42" x2="624.10" y2="328.42" stroke="#333" stroke-width="0.8"/>
<line x1="635.50" y1="334.01" x2="635.50" y2="336.50" stroke="#333" stroke-width="0.8"/>
<line x1="633.90" y1="334.01" x2="637.10" y2="334.01" stroke="#333" stroke-width="0.8"/>
<line x1="633.90" y1="336.50" x2="637.10" y2="336.50" stroke="#333" stroke-width="0.8"/>
<circle cx="570.50" cy="288.63" r="2.7" fill="#ffc000" stroke="none" stroke-width="1"/>
<circle cx="583.50" cy="304.18" r="2.7" fill="#ffc000" stroke="none" stroke-width="1"/>
<circle cx="596.50" cy="316.61" r="2.7" fill="#ffc000" stroke="none" stroke-width="1"/>
<circle cx="609.50" cy="325.93" r="2.7" fill="#ffc000" stroke="none" stroke-width="1"/>
<circle cx="622.50" cy="327.18" r="2.7" fill="#ffc000" stroke="none" stroke-width="1"/>
<circle cx="635.50" cy="335.26" r="2.7" fill="#ffc000" stroke="none" stroke-width="1"/>
<polyline points="570.50,288.63 583.50,307.28 596.50,314.74 609.50,321.58 622.50,328.42 635.50,334.64" fill="none" stroke="#5b5bf5" stroke-width="1.0"/>
<line x1="583.50" y1="306.04" x2="583.50" y2="308.53" stroke="#333" stroke-width="0.8"/>
<line x1="581.90" y1="306.04" x2="585.10" y2="306.04" stroke="#333" stroke-width="0.8"/>
<line x1="581.90" y1="308.53" x2="585.10" y2="308.53" stroke="#333" stroke-width="0.8"/>
<line x1="596.50" y1="313.50" x2="596.50" y2="315.99" stroke="#333" stroke-width="0.8"/>
<line x1="594.90" y1="313.50" x2="598.10" y2="313.50" stroke="#333" stroke-width="0.8"/>
<line x1="594.90" y1="315.99" x2="598.10" y2="315.99" stroke="#333" stroke-width="0.8"/>
<line x1="609.50" y1="320.34" x2="609.50" y2="322.83" stroke="#333" stroke-width="0.8"/>
<line x1="607.90" y1="320.34" x2="611.10" y2="320.34" stroke="#333" stroke-width="0.8"/>
<line x1="607.90" y1="322.83" x2="611.10" y2="322.83" stroke="#333" stroke-width="0.8"/>
<line x1="622.50" y1="327.18" x2="622.50" y2="329.66" stroke="#333" stroke-width="0.8"/>
<line x1="620.90" y1="327.18" x2="624.10" y2="327.18" stroke="#333" stroke-width="0.8"/>
<line x1="620.90" y1="329.66" x2="624.10" y2="329.66" stroke="#333" stroke-width="0.8"/>
<line x1="635.50" y1="333.39" x2="635.50" y2="335.88" stroke="#333" stroke-width="0.8"/>
<line x1="633.90" y1="333.39" x2="637.10" y2="333.39" stroke="#333" stroke-width="0.8"/>
<line x1="633.90" y1="335.88" x2="637.10" y2="335.88" stroke="#333" stroke-width="0.8"/>
<circle cx="570.50" cy="288.63" r="2.7" fill="#5b5bf5" stroke="none" stroke-width="1"/>
<circle cx="583.50" cy="307.28" r="2.7" fill="#5b5bf5" stroke="none" stroke-width="1"/>
<circle cx="596.50" cy="314.74" r="2.7" fill="#5b5bf5" stroke="none" stroke-width="1"/>
<circle cx="609.50" cy="321.58" r="2.7" fill="#5b5bf5" stroke="none" stroke-width="1"/>
<circle cx="622.50" cy="328.42" r="2.7" fill="#5b5bf5" stroke="none" stroke-width="1"/>
<circle cx="635.50" cy="334.64" r="2.7" fill="#5b5bf5" stroke="none" stroke-width="1"/>
<text x="603.40" y="384.10" font-size="8.7" font-weight="bold" text-anchor="middle" fill="#222">RSL3 (µM)</text>
<text x="540.70" y="313.50" font-size="8.8" text-anchor="middle" fill="#222" transform="rotate(-90 540.70 313.50)">Cell viability (%)</text>
<text x="644.30" y="302.80" font-size="6.7" fill="#333">Darapladib</text>
<line x1="646.10" y1="310.40" x2="665.50" y2="310.40" stroke="#8c8c8c" stroke-width="1.0"/>
<circle cx="655.80" cy="310.40" r="1.6" fill="#8c8c8c" stroke="none" stroke-width="1"/>
<text x="667.20" y="312.70" font-size="6.4" fill="#333">0 µM</text>
<line x1="646.10" y1="317.70" x2="665.50" y2="317.70" stroke="#1a1a1a" stroke-width="1.0"/>
<circle cx="655.80" cy="317.70" r="1.6" fill="#1a1a1a" stroke="none" stroke-width="1"/>
<text x="667.20" y="320.00" font-size="6.4" fill="#333">2 µM</text>
<line x1="646.10" y1="325.00" x2="665.50" y2="325.00" stroke="#ffc000" stroke-width="1.0"/>
<circle cx="655.80" cy="325.00" r="1.6" fill="#ffc000" stroke="none" stroke-width="1"/>
<text x="667.20" y="327.30" font-size="6.4" fill="#333">1 µM</text>
<line x1="646.10" y1="332.30" x2="665.50" y2="332.30" stroke="#5b5bf5" stroke-width="1.0"/>
<circle cx="655.80" cy="332.30" r="1.6" fill="#5b5bf5" stroke="none" stroke-width="1"/>
<text x="667.20" y="334.60" font-size="6.4" fill="#333">0.5 µM</text>
<line x1="562.90" y1="385.00" x2="562.90" y2="461.10" stroke="#222" stroke-width="1.1"/>
<line x1="560.30" y1="460.60" x2="562.90" y2="460.60" stroke="#222" stroke-width="1.1"/>
<text x="557.10" y="463.26" font-size="7.4" text-anchor="end" fill="#333">0</text>
<line x1="560.30" y1="448.00" x2="562.90" y2="448.00" stroke="#222" stroke-width="1.1"/>
<text x="557.10" y="450.66" font-size="7.4" text-anchor="end" fill="#333">20</text>
<line x1="560.30" y1="435.40" x2="562.90" y2="435.40" stroke="#222" stroke-width="1.1"/>
<text x="557.10" y="438.06" font-size="7.4" text-anchor="end" fill="#333">40</text>
<line x1="560.30" y1="422.80" x2="562.90" y2="422.80" stroke="#222" stroke-width="1.1"/>
<text x="557.10" y="425.46" font-size="7.4" text-anchor="end" fill="#333">60</text>
<line x1="560.30" y1="410.20" x2="562.90" y2="410.20" stroke="#222" stroke-width="1.1"/>
<text x="557.10" y="412.86" font-size="7.4" text-anchor="end" fill="#333">80</text>
<line x1="560.30" y1="397.60" x2="562.90" y2="397.60" stroke="#222" stroke-width="1.1"/>
<text x="557.10" y="400.26" font-size="7.4" text-anchor="end" fill="#333">100</text>
<line x1="560.30" y1="385.00" x2="562.90" y2="385.00" stroke="#222" stroke-width="1.1"/>
<text x="557.10" y="387.66" font-size="7.4" text-anchor="end" fill="#333">120</text>
<line x1="562.40" y1="460.60" x2="641.20" y2="460.60" stroke="#222" stroke-width="1.1"/>
<line x1="569.90" y1="460.60" x2="569.90" y2="462.80" stroke="#222" stroke-width="0.935"/>
<line x1="582.90" y1="460.60" x2="582.90" y2="462.80" stroke="#222" stroke-width="0.935"/>
<line x1="595.90" y1="460.60" x2="595.90" y2="462.80" stroke="#222" stroke-width="0.935"/>
<line x1="608.90" y1="460.60" x2="608.90" y2="462.80" stroke="#222" stroke-width="0.935"/>
<line x1="621.90" y1="460.60" x2="621.90" y2="462.80" stroke="#222" stroke-width="0.935"/>
<line x1="634.90" y1="460.60" x2="634.90" y2="462.80" stroke="#222" stroke-width="0.935"/>
<text x="572.49" y="464.90" font-size="7.2" text-anchor="end" fill="#404040" transform="rotate(-90 572.49 464.90)">0</text>
<text x="585.49" y="464.90" font-size="7.2" text-anchor="end" fill="#404040" transform="rotate(-90 585.49 464.90)">0.1</text>
<text x="598.49" y="464.90" font-size="7.2" text-anchor="end" fill="#404040" transform="rotate(-90 598.49 464.90)">0.25</text>
<text x="611.49" y="464.90" font-size="7.2" text-anchor="end" fill="#404040" transform="rotate(-90 611.49 464.90)">0.5</text>
<text x="624.49" y="464.90" font-size="7.2" text-anchor="end" fill="#404040" transform="rotate(-90 624.49 464.90)">0.75</text>
<text x="637.49" y="464.90" font-size="7.2" text-anchor="end" fill="#404040" transform="rotate(-90 637.49 464.90)">1</text>
<polyline points="569.90,397.60 582.90,399.49 595.90,402.64 608.90,412.09 621.90,413.35 634.90,419.02" fill="none" stroke="#8c8c8c" stroke-width="1.0"/>
<line x1="582.90" y1="398.86" x2="582.90" y2="400.12" stroke="#333" stroke-width="0.8"/>
<line x1="581.30" y1="398.86" x2="584.50" y2="398.86" stroke="#333" stroke-width="0.8"/>
<line x1="581.30" y1="400.12" x2="584.50" y2="400.12" stroke="#333" stroke-width="0.8"/>
<line x1="595.90" y1="401.38" x2="595.90" y2="403.90" stroke="#333" stroke-width="0.8"/>
<line x1="594.30" y1="401.38" x2="597.50" y2="401.38" stroke="#333" stroke-width="0.8"/>
<line x1="594.30" y1="403.90" x2="597.50" y2="403.90" stroke="#333" stroke-width="0.8"/>
<line x1="608.90" y1="411.46" x2="608.90" y2="412.72" stroke="#333" stroke-width="0.8"/>
<line x1="607.30" y1="411.46" x2="610.50" y2="411.46" stroke="#333" stroke-width="0.8"/>
<line x1="607.30" y1="412.72" x2="610.50" y2="412.72" stroke="#333" stroke-width="0.8"/>
<line x1="621.90" y1="412.72" x2="621.90" y2="413.98" stroke="#333" stroke-width="0.8"/>
<line x1="620.30" y1="412.72" x2="623.50" y2="412.72" stroke="#333" stroke-width="0.8"/>
<line x1="620.30" y1="413.98" x2="623.50" y2="413.98" stroke="#333" stroke-width="0.8"/>
<line x1="634.90" y1="416.50" x2="634.90" y2="421.54" stroke="#333" stroke-width="0.8"/>
<line x1="633.30" y1="416.50" x2="636.50" y2="416.50" stroke="#333" stroke-width="0.8"/>
<line x1="633.30" y1="421.54" x2="636.50" y2="421.54" stroke="#333" stroke-width="0.8"/>
<rect x="567.20" y="394.90" width="5.40" height="5.40" fill="#8c8c8c" stroke="none" stroke-width="1"/>
<rect x="580.20" y="396.79" width="5.40" height="5.40" fill="#8c8c8c" stroke="none" stroke-width="1"/>
<rect x="593.20" y="399.94" width="5.40" height="5.40" fill="#8c8c8c" stroke="none" stroke-width="1"/>
<rect x="606.20" y="409.39" width="5.40" height="5.40" fill="#8c8c8c" stroke="none" stroke-width="1"/>
<rect x="619.20" y="410.65" width="5.40" height="5.40" fill="#8c8c8c" stroke="none" stroke-width="1"/>
<rect x="632.20" y="416.32" width="5.40" height="5.40" fill="#8c8c8c" stroke="none" stroke-width="1"/>
<polyline points="569.90,397.60 582.90,407.05 595.90,420.91 608.90,430.36 621.90,438.55 634.90,437.29" fill="none" stroke="#1a1a1a" stroke-width="1.0"/>
<line x1="582.90" y1="405.16" x2="582.90" y2="408.94" stroke="#333" stroke-width="0.8"/>
<line x1="581.30" y1="405.16" x2="584.50" y2="405.16" stroke="#333" stroke-width="0.8"/>
<line x1="581.30" y1="408.94" x2="584.50" y2="408.94" stroke="#333" stroke-width="0.8"/>
<line x1="595.90" y1="419.65" x2="595.90" y2="422.17" stroke="#333" stroke-width="0.8"/>
<line x1="594.30" y1="419.65" x2="597.50" y2="419.65" stroke="#333" stroke-width="0.8"/>
<line x1="594.30" y1="422.17" x2="597.50" y2="422.17" stroke="#333" stroke-width="0.8"/>
<line x1="608.90" y1="429.10" x2="608.90" y2="431.62" stroke="#333" stroke-width="0.8"/>
<line x1="607.30" y1="429.10" x2="610.50" y2="429.10" stroke="#333" stroke-width="0.8"/>
<line x1="607.30" y1="431.62" x2="610.50" y2="431.62" stroke="#333" stroke-width="0.8"/>
<line x1="621.90" y1="437.29" x2="621.90" y2="439.81" stroke="#333" stroke-width="0.8"/>
<line x1="620.30" y1="437.29" x2="623.50" y2="437.29" stroke="#333" stroke-width="0.8"/>
<line x1="620.30" y1="439.81" x2="623.50" y2="439.81" stroke="#333" stroke-width="0.8"/>
<line x1="634.90" y1="436.03" x2="634.90" y2="438.55" stroke="#333" stroke-width="0.8"/>
<line x1="633.30" y1="436.03" x2="636.50" y2="436.03" stroke="#333" stroke-width="0.8"/>
<line x1="633.30" y1="438.55" x2="636.50" y2="438.55" stroke="#333" stroke-width="0.8"/>
<rect x="567.20" y="394.90" width="5.40" height="5.40" fill="#1a1a1a" stroke="none" stroke-width="1"/>
<rect x="580.20" y="404.35" width="5.40" height="5.40" fill="#1a1a1a" stroke="none" stroke-width="1"/>
<rect x="593.20" y="418.21" width="5.40" height="5.40" fill="#1a1a1a" stroke="none" stroke-width="1"/>
<rect x="606.20" y="427.66" width="5.40" height="5.40" fill="#1a1a1a" stroke="none" stroke-width="1"/>
<rect x="619.20" y="435.85" width="5.40" height="5.40" fill="#1a1a1a" stroke="none" stroke-width="1"/>
<rect x="632.20" y="434.59" width="5.40" height="5.40" fill="#1a1a1a" stroke="none" stroke-width="1"/>
<polyline points="569.90,397.60 582.90,405.16 595.90,417.76 608.90,429.10 621.90,434.77 634.90,437.29" fill="none" stroke="#ffc000" stroke-width="1.0"/>
<line x1="582.90" y1="403.90" x2="582.90" y2="406.42" stroke="#333" stroke-width="0.8"/>
<line x1="581.30" y1="403.90" x2="584.50" y2="403.90" stroke="#333" stroke-width="0.8"/>
<line x1="581.30" y1="406.42" x2="584.50" y2="406.42" stroke="#333" stroke-width="0.8"/>
<line x1="595.90" y1="416.50" x2="595.90" y2="419.02" stroke="#333" stroke-width="0.8"/>
<line x1="594.30" y1="416.50" x2="597.50" y2="416.50" stroke="#333" stroke-width="0.8"/>
<line x1="594.30" y1="419.02" x2="597.50" y2="419.02" stroke="#333" stroke-width="0.8"/>
<line x1="608.90" y1="427.84" x2="608.90" y2="430.36" stroke="#333" stroke-width="0.8"/>
<line x1="607.30" y1="427.84" x2="610.50" y2="427.84" stroke="#333" stroke-width="0.8"/>
<line x1="607.30" y1="430.36" x2="610.50" y2="430.36" stroke="#333" stroke-width="0.8"/>
<line x1="621.90" y1="433.51" x2="621.90" y2="436.03" stroke="#333" stroke-width="0.8"/>
<line x1="620.30" y1="433.51" x2="623.50" y2="433.51" stroke="#333" stroke-width="0.8"/>
<line x1="620.30" y1="436.03" x2="623.50" y2="436.03" stroke="#333" stroke-width="0.8"/>
<line x1="634.90" y1="436.03" x2="634.90" y2="438.55" stroke="#333" stroke-width="0.8"/>
<line x1="633.30" y1="436.03" x2="636.50" y2="436.03" stroke="#333" stroke-width="0.8"/>
<line x1="633.30" y1="438.55" x2="636.50" y2="438.55" stroke="#333" stroke-width="0.8"/>
<circle cx="569.90" cy="397.60" r="2.7" fill="#ffc000" stroke="none" stroke-width="1"/>
<circle cx="582.90" cy="405.16" r="2.7" fill="#ffc000" stroke="none" stroke-width="1"/>
<circle cx="595.90" cy="417.76" r="2.7" fill="#ffc000" stroke="none" stroke-width="1"/>
<circle cx="608.90" cy="429.10" r="2.7" fill="#ffc000" stroke="none" stroke-width="1"/>
<circle cx="621.90" cy="434.77" r="2.7" fill="#ffc000" stroke="none" stroke-width="1"/>
<circle cx="634.90" cy="437.29" r="2.7" fill="#ffc000" stroke="none" stroke-width="1"/>
<polyline points="569.90,397.60 582.90,405.16 595.90,416.50 608.90,430.99 621.90,436.03 634.90,437.92" fill="none" stroke="#5b5bf5" stroke-width="1.0"/>
<line x1="582.90" y1="403.90" x2="582.90" y2="406.42" stroke="#333" stroke-width="0.8"/>
<line x1="581.30" y1="403.90" x2="584.50" y2="403.90" stroke="#333" stroke-width="0.8"/>
<line x1="581.30" y1="406.42" x2="584.50" y2="406.42" stroke="#333" stroke-width="0.8"/>
<line x1="595.90" y1="414.61" x2="595.90" y2="418.39" stroke="#333" stroke-width="0.8"/>
<line x1="594.30" y1="414.61" x2="597.50" y2="414.61" stroke="#333" stroke-width="0.8"/>
<line x1="594.30" y1="418.39" x2="597.50" y2="418.39" stroke="#333" stroke-width="0.8"/>
<line x1="608.90" y1="429.73" x2="608.90" y2="432.25" stroke="#333" stroke-width="0.8"/>
<line x1="607.30" y1="429.73" x2="610.50" y2="429.73" stroke="#333" stroke-width="0.8"/>
<line x1="607.30" y1="432.25" x2="610.50" y2="432.25" stroke="#333" stroke-width="0.8"/>
<line x1="621.90" y1="434.77" x2="621.90" y2="437.29" stroke="#333" stroke-width="0.8"/>
<line x1="620.30" y1="434.77" x2="623.50" y2="434.77" stroke="#333" stroke-width="0.8"/>
<line x1="620.30" y1="437.29" x2="623.50" y2="437.29" stroke="#333" stroke-width="0.8"/>
<line x1="634.90" y1="436.66" x2="634.90" y2="439.18" stroke="#333" stroke-width="0.8"/>
<line x1="633.30" y1="436.66" x2="636.50" y2="436.66" stroke="#333" stroke-width="0.8"/>
<line x1="633.30" y1="439.18" x2="636.50" y2="439.18" stroke="#333" stroke-width="0.8"/>
<rect x="567.20" y="394.90" width="5.40" height="5.40" fill="#5b5bf5" stroke="none" stroke-width="1"/>
<rect x="580.20" y="402.46" width="5.40" height="5.40" fill="#5b5bf5" stroke="none" stroke-width="1"/>
<rect x="593.20" y="413.80" width="5.40" height="5.40" fill="#5b5bf5" stroke="none" stroke-width="1"/>
<rect x="606.20" y="428.29" width="5.40" height="5.40" fill="#5b5bf5" stroke="none" stroke-width="1"/>
<rect x="619.20" y="433.33" width="5.40" height="5.40" fill="#5b5bf5" stroke="none" stroke-width="1"/>
<rect x="632.20" y="435.22" width="5.40" height="5.40" fill="#5b5bf5" stroke="none" stroke-width="1"/>
<text x="602.20" y="493.90" font-size="8.85" text-anchor="middle" fill="#222">JKE1674 (µM)</text>
<text x="539.70" y="421.80" font-size="8.8" text-anchor="middle" fill="#222" transform="rotate(-90 539.70 421.80)">Cell viability (%)</text>
<text x="644.30" y="412.50" font-size="6.7" fill="#333">Darapladib</text>
<line x1="644.80" y1="419.00" x2="664.50" y2="419.00" stroke="#8c8c8c" stroke-width="1.0"/>
<circle cx="654.65" cy="419.00" r="1.6" fill="#8c8c8c" stroke="none" stroke-width="1"/>
<text x="666.10" y="421.30" font-size="6.4" fill="#333">0 µM</text>
<line x1="644.80" y1="426.70" x2="664.50" y2="426.70" stroke="#1a1a1a" stroke-width="1.0"/>
<circle cx="654.65" cy="426.70" r="1.6" fill="#1a1a1a" stroke="none" stroke-width="1"/>
<text x="666.10" y="429.00" font-size="6.4" fill="#333">2 µM</text>
<line x1="644.80" y1="434.70" x2="664.50" y2="434.70" stroke="#ffc000" stroke-width="1.0"/>
<circle cx="654.65" cy="434.70" r="1.6" fill="#ffc000" stroke="none" stroke-width="1"/>
<text x="666.10" y="437.00" font-size="6.4" fill="#333">1 µM</text>
<line x1="644.80" y1="441.90" x2="664.50" y2="441.90" stroke="#5b5bf5" stroke-width="1.0"/>
<circle cx="654.65" cy="441.90" r="1.6" fill="#5b5bf5" stroke="none" stroke-width="1"/>
<text x="666.10" y="444.20" font-size="6.4" fill="#333">0.5 µM</text>
</svg></body></html>
